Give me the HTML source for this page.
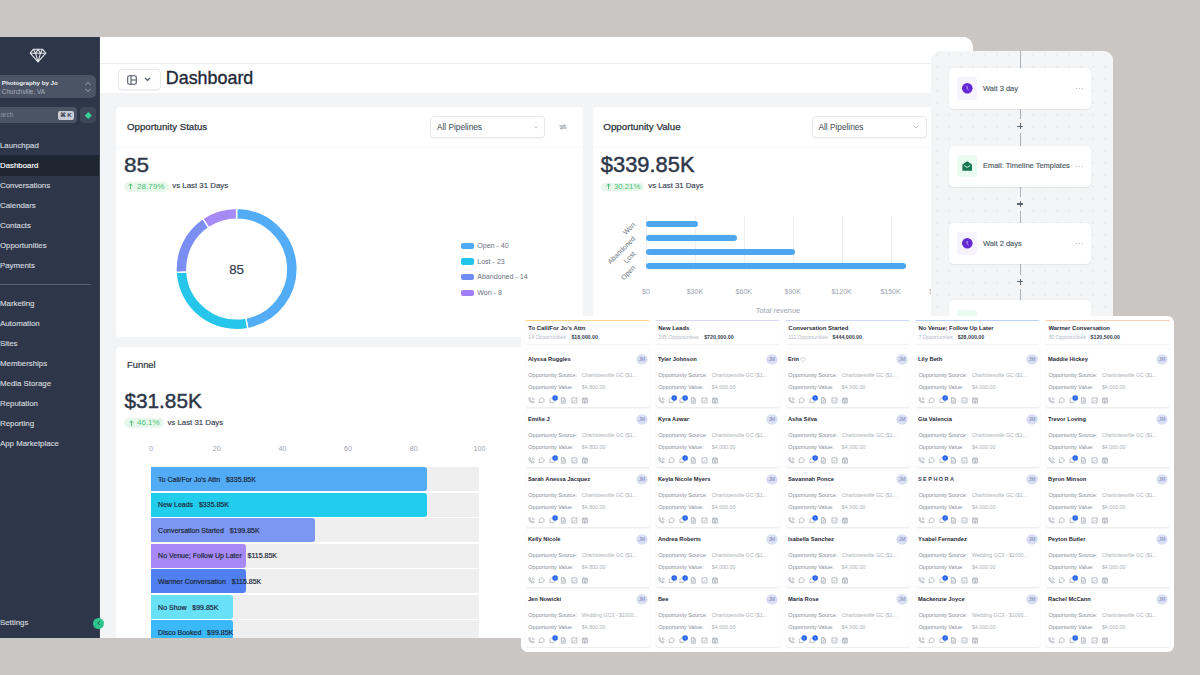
<!DOCTYPE html>
<html><head><meta charset="utf-8">
<style>
*{box-sizing:border-box;margin:0;padding:0}
html,body{width:1200px;height:675px;overflow:hidden;background:#c9c6c3;font-family:"Liberation Sans",sans-serif;position:relative}
.a{position:absolute}
.t{position:absolute;line-height:1;white-space:nowrap}
svg{position:absolute;overflow:visible}
</style></head><body>

<div class="a" style="left:0;top:37px;width:973px;height:601px;background:#f3f4f6;border-top-right-radius:10px;overflow:hidden">
<div class="a" style="left:0;top:-37px;width:973px;height:675px">
<div class="a" style="left:99.00px;top:37.00px;width:874.00px;height:26.00px;background:#fff;"></div>
<div class="a" style="left:99.00px;top:63.00px;width:874.00px;height:1.00px;background:#eceef1;"></div>
<div class="a" style="left:99.00px;top:64.00px;width:874.00px;height:29.00px;background:#fff;"></div>
<div class="a" style="left:0.00px;top:37.00px;width:99.00px;height:601.00px;background:#2d3749;"></div>
<div class="a" style="left:98.50px;top:37.00px;width:1.00px;height:601.00px;background:#3a4453;"></div>
<svg style="left:29px;top:48px" width="18" height="15" viewBox="0 0 18 15">
 <g fill="none" stroke="#e5e7eb" stroke-width="1.1" stroke-linejoin="round">
 <path d="M4.5 1.2 H13.5 L16.8 5.2 L9 13.8 L1.2 5.2 Z"/>
 <path d="M1.2 5.2 H16.8 M4.5 1.2 L6.5 5.2 L9 1.2 L11.5 5.2 L13.5 1.2 M6.5 5.2 L9 13.8 L11.5 5.2"/></g></svg>
<div class="a" style="left:-6.00px;top:75.00px;width:102.00px;height:23.00px;background:#4a5465;border-radius:5px"></div>
<div class="t" style="left:1.80px;top:80.17px;font-size:6.2px;color:#eef0f3;font-weight:bold;">Photography by Jo</div>
<div class="t" style="left:1.80px;top:89.07px;font-size:6.4px;color:#a7afbb;font-weight:normal;">Churchville, VA</div>
<svg style="left:84px;top:81px" width="8" height="12" viewBox="0 0 8 12"><path d="M1.5 4 L4 1.5 L6.5 4 M1.5 8 L4 10.5 L6.5 8" fill="none" stroke="#aeb5c0" stroke-width="0.9"/></svg>
<div class="a" style="left:-6.00px;top:107.00px;width:83.00px;height:16.00px;background:#4a5465;border-radius:4px"></div>
<div class="t" style="left:-3.00px;top:111.78px;font-size:6.6px;color:#8d96a3;font-weight:normal;">earch</div>
<div class="a" style="left:58.00px;top:111.00px;width:16.00px;height:9.00px;background:#c9ced6;border-radius:2px"></div>
<div class="t" style="left:60.00px;top:112.47px;font-size:6.2px;color:#374151;font-weight:bold;">&#8984;&thinsp;K</div>
<div class="a" style="left:80.00px;top:107.00px;width:16.00px;height:16.00px;background:#3d4757;border-radius:4px"></div>
<div class="a" style="left:85.50px;top:112.50px;width:4.60px;height:4.60px;background:#34d399;transform:rotate(45deg)"></div>
<div class="a" style="left:0.00px;top:155.00px;width:99.00px;height:21.00px;background:#1d2531;"></div>
<div class="t" style="left:0.00px;top:141.77px;font-size:7.85px;color:#d3d8df;font-weight:normal;-webkit-text-stroke:0.15px #d3d8df;">Launchpad</div>
<div class="t" style="left:0.00px;top:162.17px;font-size:7.85px;color:#fff;font-weight:normal;-webkit-text-stroke:0.15px #fff;">Dashboard</div>
<div class="t" style="left:0.00px;top:182.17px;font-size:7.85px;color:#d3d8df;font-weight:normal;-webkit-text-stroke:0.15px #d3d8df;">Conversations</div>
<div class="t" style="left:0.00px;top:201.97px;font-size:7.85px;color:#d3d8df;font-weight:normal;-webkit-text-stroke:0.15px #d3d8df;">Calendars</div>
<div class="t" style="left:0.00px;top:221.97px;font-size:7.85px;color:#d3d8df;font-weight:normal;-webkit-text-stroke:0.15px #d3d8df;">Contacts</div>
<div class="t" style="left:0.00px;top:241.97px;font-size:7.85px;color:#d3d8df;font-weight:normal;-webkit-text-stroke:0.15px #d3d8df;">Opportunities</div>
<div class="t" style="left:0.00px;top:262.17px;font-size:7.85px;color:#d3d8df;font-weight:normal;-webkit-text-stroke:0.15px #d3d8df;">Payments</div>
<div class="t" style="left:0.00px;top:300.17px;font-size:7.85px;color:#d3d8df;font-weight:normal;-webkit-text-stroke:0.15px #d3d8df;">Marketing</div>
<div class="t" style="left:0.00px;top:319.87px;font-size:7.85px;color:#d3d8df;font-weight:normal;-webkit-text-stroke:0.15px #d3d8df;">Automation</div>
<div class="t" style="left:0.00px;top:339.87px;font-size:7.85px;color:#d3d8df;font-weight:normal;-webkit-text-stroke:0.15px #d3d8df;">Sites</div>
<div class="t" style="left:0.00px;top:359.77px;font-size:7.85px;color:#d3d8df;font-weight:normal;-webkit-text-stroke:0.15px #d3d8df;">Memberships</div>
<div class="t" style="left:0.00px;top:379.67px;font-size:7.85px;color:#d3d8df;font-weight:normal;-webkit-text-stroke:0.15px #d3d8df;">Media Storage</div>
<div class="t" style="left:0.00px;top:399.67px;font-size:7.85px;color:#d3d8df;font-weight:normal;-webkit-text-stroke:0.15px #d3d8df;">Reputation</div>
<div class="t" style="left:0.00px;top:419.57px;font-size:7.85px;color:#d3d8df;font-weight:normal;-webkit-text-stroke:0.15px #d3d8df;">Reporting</div>
<div class="t" style="left:0.00px;top:439.57px;font-size:7.85px;color:#d3d8df;font-weight:normal;-webkit-text-stroke:0.15px #d3d8df;">App Marketplace</div>
<div class="t" style="left:0.00px;top:619.17px;font-size:7.85px;color:#d3d8df;font-weight:normal;-webkit-text-stroke:0.15px #d3d8df;">Settings</div>
<div class="a" style="left:0.00px;top:284.00px;width:91.00px;height:1.00px;background:#56606f;"></div>
<div class="a" style="left:117.50px;top:69.00px;width:43.00px;height:21.00px;background:#fff;border:1px solid #e7e9ec;border-radius:4px;box-shadow:0 1px 1px rgba(0,0,0,0.04)"></div>
<svg style="left:127px;top:74.5px" width="10" height="10" viewBox="0 0 10 10"><rect x="0.7" y="0.7" width="8.6" height="8.6" rx="1.8" fill="none" stroke="#4b5563" stroke-width="1.1"/><path d="M4 0.7 V9.3 M4 5 H9.3" stroke="#4b5563" stroke-width="1.1"/></svg>
<svg style="left:143.5px;top:77px" width="7" height="5" viewBox="0 0 7 5"><path d="M1 1 L3.5 3.5 L6 1" fill="none" stroke="#4b5563" stroke-width="1.1"/></svg>
<div class="t" style="left:165.80px;top:70.26px;font-size:17.9px;color:#1f2937;font-weight:normal;-webkit-text-stroke:0.35px #1f2937;">Dashboard</div>
<div class="a" style="left:116.00px;top:106.50px;width:467.00px;height:230.00px;background:#fff;border-radius:4px"></div>
<div class="a" style="left:116.00px;top:146.50px;width:467.00px;height:0.60px;background:#f7f8f9;"></div>
<div class="t" style="left:127.00px;top:121.87px;font-size:9.68px;color:#2d3440;font-weight:normal;-webkit-text-stroke:0.25px #2d3440;">Opportunity Status</div>
<div class="a" style="left:429.60px;top:115.60px;width:115.80px;height:22.70px;background:#fff;border:1px solid #e6e8eb;border-radius:4px;box-shadow:0 1px 1.5px rgba(0,0,0,0.05)"></div>
<div class="t" style="left:437.00px;top:123.57px;font-size:8.25px;color:#515a66;font-weight:normal;-webkit-text-stroke:0.1px #515a66;">All Pipelines</div>
<svg style="left:533px;top:125px" width="6" height="4" viewBox="0 0 6 4"><path d="M0.8 0.8 L3 3 L5.2 0.8" fill="none" stroke="#b8bec6" stroke-width="0.8"/></svg>
<svg style="left:559px;top:124px" width="8" height="6" viewBox="0 0 8 6"><path d="M0.5 2 H6.5 L5 0.5 M7.5 4 H1.5 L3 5.5" fill="none" stroke="#7b828c" stroke-width="0.9"/></svg>
<div class="t" style="left:124.00px;top:154.99px;font-size:20.5px;color:#2d3748;font-weight:normal;-webkit-text-stroke:0.4px #2d3748;transform:scaleX(1.1);transform-origin:0 0">85</div>
<div class="a" style="left:123.80px;top:181.80px;width:45.00px;height:9.80px;background:#e8f7ec;border-radius:5px"></div>
<svg style="left:128.3px;top:183.3px" width="5" height="6.5" viewBox="0 0 5 6.5"><path d="M2.5 6.2 V0.9 M0.6 2.8 L2.5 0.9 L4.4 2.8" fill="none" stroke="#41b96a" stroke-width="0.9"/></svg>
<div class="t" style="left:137.00px;top:182.54px;font-size:8.1px;color:#4cc474;font-weight:normal;">28.79%</div>
<div class="t" style="left:172.30px;top:182.47px;font-size:7.85px;color:#374151;font-weight:normal;-webkit-text-stroke:0.15px #374151;">vs Last 31 Days</div>
<svg style="left:0;top:0" width="1200" height="675"><path d="M236.60 208.40 A60.6 60.6 0 0 1 247.75 328.57 L245.76 317.95 A49.8 49.8 0 0 0 236.60 219.20 Z" fill="#53adf6" stroke="#fff" stroke-width="1.4"/><path d="M247.75 328.57 A60.6 60.6 0 0 1 176.09 272.38 L186.88 271.78 A49.8 49.8 0 0 0 245.76 317.95 Z" fill="#26c6ea" stroke="#fff" stroke-width="1.4"/><path d="M176.09 272.38 A60.6 60.6 0 0 1 202.80 218.70 L208.82 227.67 A49.8 49.8 0 0 0 186.88 271.78 Z" fill="#7b8ef3" stroke="#fff" stroke-width="1.4"/><path d="M202.80 218.70 A60.6 60.6 0 0 1 236.60 208.40 L236.60 219.20 A49.8 49.8 0 0 0 208.82 227.67 Z" fill="#a68bf7" stroke="#fff" stroke-width="1.4"/></svg>
<div class="t" style="left:36.60px;width:400px;text-align:center;top:263.10px;font-size:13.3px;color:#374151;font-weight:normal;-webkit-text-stroke:0.25px #374151;">85</div>
<div class="a" style="left:461.20px;top:242.70px;width:12.70px;height:6.60px;background:#4fa9f6;border-radius:2px"></div>
<div class="t" style="left:477.20px;top:243.03px;font-size:7.1px;color:#6b7280;font-weight:normal;">Open - 40</div>
<div class="a" style="left:461.20px;top:258.30px;width:12.70px;height:6.60px;background:#22c4e8;border-radius:2px"></div>
<div class="t" style="left:477.20px;top:258.63px;font-size:7.1px;color:#6b7280;font-weight:normal;">Lost - 23</div>
<div class="a" style="left:461.20px;top:273.90px;width:12.70px;height:6.60px;background:#6f8cf2;border-radius:2px"></div>
<div class="t" style="left:477.20px;top:274.23px;font-size:7.1px;color:#6b7280;font-weight:normal;">Abandoned - 14</div>
<div class="a" style="left:461.20px;top:289.50px;width:12.70px;height:6.60px;background:#a07ef6;border-radius:2px"></div>
<div class="t" style="left:477.20px;top:289.83px;font-size:7.1px;color:#6b7280;font-weight:normal;">Won - 8</div>
<div class="a" style="left:592.50px;top:106.50px;width:470.00px;height:230.00px;background:#fff;border-radius:4px"></div>
<div class="a" style="left:592.50px;top:146.50px;width:470.00px;height:0.60px;background:#f7f8f9;"></div>
<div class="t" style="left:603.30px;top:121.84px;font-size:9.75px;color:#2d3440;font-weight:normal;-webkit-text-stroke:0.25px #2d3440;">Opportunity Value</div>
<div class="a" style="left:811.70px;top:116.00px;width:115.00px;height:21.70px;background:#fff;border:1px solid #e6e8eb;border-radius:4px;box-shadow:0 1px 1.5px rgba(0,0,0,0.05)"></div>
<div class="t" style="left:818.50px;top:123.57px;font-size:8.25px;color:#515a66;font-weight:normal;-webkit-text-stroke:0.1px #515a66;">All Pipelines</div>
<svg style="left:913px;top:125px" width="6" height="4" viewBox="0 0 6 4"><path d="M0.8 0.8 L3 3 L5.2 0.8" fill="none" stroke="#b8bec6" stroke-width="0.8"/></svg>
<div class="t" style="left:600.80px;top:154.10px;font-size:21.9px;color:#2d3748;font-weight:normal;-webkit-text-stroke:0.45px #2d3748;">$339.85K</div>
<div class="a" style="left:601.10px;top:182.60px;width:43.20px;height:8.80px;background:#e8f7ec;border-radius:5px"></div>
<svg style="left:605.5px;top:183.3px" width="5" height="6.5" viewBox="0 0 5 6.5"><path d="M2.5 6.2 V0.9 M0.6 2.8 L2.5 0.9 L4.4 2.8" fill="none" stroke="#41b96a" stroke-width="0.9"/></svg>
<div class="t" style="left:613.90px;top:182.69px;font-size:7.8px;color:#4cc474;font-weight:normal;">30.21%</div>
<div class="t" style="left:648.30px;top:182.31px;font-size:7.75px;color:#374151;font-weight:normal;-webkit-text-stroke:0.15px #374151;">vs Last 31 Days</div>
<div class="a" style="left:646.00px;top:216.00px;width:0.60px;height:55.40px;background:#eceef1;"></div>
<div class="a" style="left:694.90px;top:216.00px;width:0.60px;height:55.40px;background:#eceef1;"></div>
<div class="a" style="left:743.80px;top:216.00px;width:0.60px;height:55.40px;background:#eceef1;"></div>
<div class="a" style="left:792.70px;top:216.00px;width:0.60px;height:55.40px;background:#eceef1;"></div>
<div class="a" style="left:841.60px;top:216.00px;width:0.60px;height:55.40px;background:#eceef1;"></div>
<div class="a" style="left:890.50px;top:216.00px;width:0.60px;height:55.40px;background:#eceef1;"></div>
<div class="a" style="left:939.40px;top:216.00px;width:0.60px;height:55.40px;background:#eceef1;"></div>
<div class="a" style="left:646.00px;top:220.70px;width:51.70px;height:6.00px;background:#4ea6ef;border-radius:3px"></div>
<div class="t" style="left:334.20px;top:220.10px;width:300px;text-align:right;font-size:7px;color:#6b7280;transform-origin:100% 50%;transform:rotate(-45deg)">Won</div>
<div class="a" style="left:646.00px;top:234.90px;width:90.90px;height:6.00px;background:#4ea6ef;border-radius:3px"></div>
<div class="t" style="left:334.20px;top:234.30px;width:300px;text-align:right;font-size:7px;color:#6b7280;transform-origin:100% 50%;transform:rotate(-45deg)">Abandoned</div>
<div class="a" style="left:646.00px;top:249.10px;width:148.90px;height:6.00px;background:#4ea6ef;border-radius:3px"></div>
<div class="t" style="left:334.20px;top:248.50px;width:300px;text-align:right;font-size:7px;color:#6b7280;transform-origin:100% 50%;transform:rotate(-45deg)">Lost</div>
<div class="a" style="left:646.00px;top:263.30px;width:259.70px;height:6.00px;background:#4ea6ef;border-radius:3px"></div>
<div class="t" style="left:334.20px;top:262.70px;width:300px;text-align:right;font-size:7px;color:#6b7280;transform-origin:100% 50%;transform:rotate(-45deg)">Open</div>
<div class="t" style="left:446.00px;width:400px;text-align:center;top:287.88px;font-size:7.0px;color:#9ca3af;font-weight:normal;">$0</div>
<div class="t" style="left:494.90px;width:400px;text-align:center;top:287.88px;font-size:7.0px;color:#9ca3af;font-weight:normal;">$30K</div>
<div class="t" style="left:543.80px;width:400px;text-align:center;top:287.88px;font-size:7.0px;color:#9ca3af;font-weight:normal;">$60K</div>
<div class="t" style="left:592.70px;width:400px;text-align:center;top:287.88px;font-size:7.0px;color:#9ca3af;font-weight:normal;">$90K</div>
<div class="t" style="left:641.60px;width:400px;text-align:center;top:287.88px;font-size:7.0px;color:#9ca3af;font-weight:normal;">$120K</div>
<div class="t" style="left:690.50px;width:400px;text-align:center;top:287.88px;font-size:7.0px;color:#9ca3af;font-weight:normal;">$150K</div>
<div class="t" style="left:739.40px;width:400px;text-align:center;top:287.88px;font-size:7.0px;color:#9ca3af;font-weight:normal;">$180K</div>
<div class="t" style="left:578.00px;width:400px;text-align:center;top:306.89px;font-size:7.4px;color:#9ca3af;font-weight:normal;">Total revenue</div>
<div class="a" style="left:116.00px;top:346.50px;width:470.00px;height:300.00px;background:#fff;border-radius:4px"></div>
<div class="t" style="left:127.00px;top:360.41px;font-size:9.4px;color:#2d3440;font-weight:normal;-webkit-text-stroke:0.2px #2d3440;">Funnel</div>
<div class="t" style="left:124.40px;top:390.84px;font-size:20.8px;color:#2d3748;font-weight:normal;-webkit-text-stroke:0.45px #2d3748;">$31.85K</div>
<div class="a" style="left:124.00px;top:417.60px;width:39.80px;height:10.00px;background:#e8f7ec;border-radius:5px"></div>
<svg style="left:128.5px;top:419.5px" width="5" height="6.5" viewBox="0 0 5 6.5"><path d="M2.5 6.2 V0.9 M0.6 2.8 L2.5 0.9 L4.4 2.8" fill="none" stroke="#41b96a" stroke-width="0.9"/></svg>
<div class="t" style="left:137.00px;top:419.09px;font-size:8.0px;color:#4cc474;font-weight:normal;">46.1%</div>
<div class="t" style="left:167.40px;top:419.17px;font-size:7.85px;color:#374151;font-weight:normal;-webkit-text-stroke:0.15px #374151;">vs Last 31 Days</div>
<div class="t" style="left:-49.00px;width:400px;text-align:center;top:444.68px;font-size:7.2px;color:#9ca3af;font-weight:normal;">0</div>
<div class="t" style="left:16.70px;width:400px;text-align:center;top:444.68px;font-size:7.2px;color:#9ca3af;font-weight:normal;">20</div>
<div class="t" style="left:82.40px;width:400px;text-align:center;top:444.68px;font-size:7.2px;color:#9ca3af;font-weight:normal;">40</div>
<div class="t" style="left:148.10px;width:400px;text-align:center;top:444.68px;font-size:7.2px;color:#9ca3af;font-weight:normal;">60</div>
<div class="t" style="left:213.80px;width:400px;text-align:center;top:444.68px;font-size:7.2px;color:#9ca3af;font-weight:normal;">80</div>
<div class="t" style="left:279.50px;width:400px;text-align:center;top:444.68px;font-size:7.2px;color:#9ca3af;font-weight:normal;">100</div>
<div class="a" style="left:151.00px;top:467.00px;width:328.20px;height:24.00px;background:#efefef;"></div>
<div class="a" style="left:151.00px;top:467.00px;width:276.00px;height:24.00px;background:#52abf5;border-radius:0 3px 3px 0"></div>
<div class="t" style="left:158.10px;top:475.68px;font-size:7.0px;color:#1e293b;font-weight:normal;-webkit-text-stroke:0.2px #1e293b;">To Call/For Jo's Attn&nbsp;&nbsp;&nbsp;$335.85K</div>
<div class="a" style="left:151.00px;top:492.57px;width:328.20px;height:24.00px;background:#efefef;"></div>
<div class="a" style="left:151.00px;top:492.57px;width:276.00px;height:24.00px;background:#22ccec;border-radius:0 3px 3px 0"></div>
<div class="t" style="left:158.10px;top:501.25px;font-size:7.0px;color:#1e293b;font-weight:normal;-webkit-text-stroke:0.2px #1e293b;">New Leads&nbsp;&nbsp;&nbsp;$335.85K</div>
<div class="a" style="left:151.00px;top:518.14px;width:328.20px;height:24.00px;background:#efefef;"></div>
<div class="a" style="left:151.00px;top:518.14px;width:164.00px;height:24.00px;background:#7c96f4;border-radius:0 3px 3px 0"></div>
<div class="t" style="left:158.10px;top:526.82px;font-size:7.0px;color:#1e293b;font-weight:normal;-webkit-text-stroke:0.2px #1e293b;">Conversation Started&nbsp;&nbsp;&nbsp;$199.85K</div>
<div class="a" style="left:151.00px;top:543.71px;width:328.20px;height:24.00px;background:#efefef;"></div>
<div class="a" style="left:151.00px;top:543.71px;width:95.00px;height:24.00px;background:#a689f6;border-radius:0 3px 3px 0"></div>
<div class="t" style="left:158.10px;top:552.39px;font-size:7.0px;color:#1e293b;font-weight:normal;-webkit-text-stroke:0.2px #1e293b;">No Venue; Follow Up Later&nbsp;&nbsp;&nbsp;$115.85K</div>
<div class="a" style="left:151.00px;top:569.28px;width:328.20px;height:24.00px;background:#efefef;"></div>
<div class="a" style="left:151.00px;top:569.28px;width:95.00px;height:24.00px;background:#4f7ff0;border-radius:0 3px 3px 0"></div>
<div class="t" style="left:158.10px;top:577.96px;font-size:7.0px;color:#1e293b;font-weight:normal;-webkit-text-stroke:0.2px #1e293b;">Warmer Conversation&nbsp;&nbsp;&nbsp;$115.85K</div>
<div class="a" style="left:151.00px;top:594.85px;width:328.20px;height:24.00px;background:#efefef;"></div>
<div class="a" style="left:151.00px;top:594.85px;width:82.00px;height:24.00px;background:#68e0f6;border-radius:0 3px 3px 0"></div>
<div class="t" style="left:158.10px;top:603.53px;font-size:7.0px;color:#1e293b;font-weight:normal;-webkit-text-stroke:0.2px #1e293b;">No Show&nbsp;&nbsp;&nbsp;$99.85K</div>
<div class="a" style="left:151.00px;top:620.42px;width:328.20px;height:24.00px;background:#efefef;"></div>
<div class="a" style="left:151.00px;top:620.42px;width:82.00px;height:24.00px;background:#3bb8f7;border-radius:0 3px 3px 0"></div>
<div class="t" style="left:158.10px;top:629.10px;font-size:7.0px;color:#1e293b;font-weight:normal;-webkit-text-stroke:0.2px #1e293b;">Disco Booked&nbsp;&nbsp;&nbsp;$99.85K</div>
</div></div>
<div class="a" style="left:93.00px;top:617.50px;width:11.00px;height:11.00px;background:#2fc48d;border-radius:50%"></div>
<svg style="left:95.5px;top:620px" width="6" height="6" viewBox="0 0 6 6"><path d="M3.8 1 L1.8 3 L3.8 5" fill="none" stroke="#0f5132" stroke-width="0.9"/></svg>
<div class="a" style="left:931px;top:51px;width:182px;height:300px;background:#f4f5f7;border-radius:9px;overflow:hidden">
<div class="a" style="left:-931px;top:-51px;width:1200px;height:675px">
<div class="a" style="left:931px;top:51px;width:182px;height:300px;background-image:radial-gradient(circle at 0.75px 0.75px,#e0e3e7 0.6px,transparent 1.0px);background-size:12px 12px;background-position:5.4px 3px"></div>
<div class="a" style="left:1020.00px;top:51.00px;width:1.00px;height:270.00px;background:#aeb2b8;"></div>
<div class="a" style="left:1016.50px;top:119.30px;width:8.00px;height:14.00px;background:#f4f5f7;"></div>
<div class="a" style="left:1017.40px;top:125.70px;width:6.00px;height:1.20px;background:#5b636e;"></div>
<div class="a" style="left:1019.80px;top:123.30px;width:1.20px;height:6.00px;background:#5b636e;"></div>
<div class="a" style="left:1017.40px;top:120.30px;width:6.00px;height:12.00px;background:transparent;"></div>
<div class="a" style="left:1016.50px;top:197.00px;width:8.00px;height:14.00px;background:#f4f5f7;"></div>
<div class="a" style="left:1017.40px;top:203.40px;width:6.00px;height:1.20px;background:#5b636e;"></div>
<div class="a" style="left:1019.80px;top:201.00px;width:1.20px;height:6.00px;background:#5b636e;"></div>
<div class="a" style="left:1017.40px;top:198.00px;width:6.00px;height:12.00px;background:transparent;"></div>
<div class="a" style="left:1016.50px;top:274.50px;width:8.00px;height:14.00px;background:#f4f5f7;"></div>
<div class="a" style="left:1017.40px;top:280.90px;width:6.00px;height:1.20px;background:#5b636e;"></div>
<div class="a" style="left:1019.80px;top:278.50px;width:1.20px;height:6.00px;background:#5b636e;"></div>
<div class="a" style="left:1017.40px;top:275.50px;width:6.00px;height:12.00px;background:transparent;"></div>
<div class="a" style="left:949.30px;top:67.70px;width:142.00px;height:41.30px;background:#fff;border-radius:5px;box-shadow:0 0.5px 1.5px rgba(0,0,0,0.07)"></div>
<div class="a" style="left:956.70px;top:77.05px;width:20.60px;height:22.60px;background:#f6f2fe;border-radius:3px"></div>
<svg style="left:961.8px;top:83.05px" width="10.6" height="10.6" viewBox="0 0 10.6 10.6"><circle cx="5.3" cy="5.3" r="5.3" fill="#6529d3"/><path d="M5.1 2.8 V5.6 L6.6 7" fill="none" stroke="#e9ddff" stroke-width="0.7"/></svg>
<div class="t" style="left:982.90px;top:84.69px;font-size:7.5px;color:#4b5563;font-weight:normal;-webkit-text-stroke:0.12px #4b5563;">Wait 3 day</div>
<div class="a" style="left:1076.30px;top:87.80px;width:1.20px;height:1.20px;background:#9ca3af;border-radius:50%"></div>
<div class="a" style="left:1079.20px;top:87.80px;width:1.20px;height:1.20px;background:#9ca3af;border-radius:50%"></div>
<div class="a" style="left:1082.10px;top:87.80px;width:1.20px;height:1.20px;background:#9ca3af;border-radius:50%"></div>
<div class="a" style="left:949.30px;top:145.60px;width:142.00px;height:41.10px;background:#fff;border-radius:5px;box-shadow:0 0.5px 1.5px rgba(0,0,0,0.07)"></div>
<div class="a" style="left:956.70px;top:155.15px;width:20.60px;height:22.00px;background:#eafbf2;border-radius:3px"></div>
<svg style="left:962px;top:160.85px" width="10.4" height="10" viewBox="0 0 10.4 10"><path d="M0.4 3.6 L5.2 0.3 L10 3.6 V9.7 H0.4 Z" fill="#15784f"/><path d="M2.2 4.6 L5.2 6.4 L8.2 4.6" fill="none" stroke="#eafbf2" stroke-width="0.9"/></svg>
<div class="t" style="left:982.90px;top:162.49px;font-size:7.5px;color:#4b5563;font-weight:normal;-webkit-text-stroke:0.12px #4b5563;">Email: Timeline Templates</div>
<div class="a" style="left:1076.30px;top:165.60px;width:1.20px;height:1.20px;background:#9ca3af;border-radius:50%"></div>
<div class="a" style="left:1079.20px;top:165.60px;width:1.20px;height:1.20px;background:#9ca3af;border-radius:50%"></div>
<div class="a" style="left:1082.10px;top:165.60px;width:1.20px;height:1.20px;background:#9ca3af;border-radius:50%"></div>
<div class="a" style="left:949.30px;top:223.00px;width:142.00px;height:40.50px;background:#fff;border-radius:5px;box-shadow:0 0.5px 1.5px rgba(0,0,0,0.07)"></div>
<div class="a" style="left:956.70px;top:231.95px;width:20.60px;height:22.60px;background:#f6f2fe;border-radius:3px"></div>
<svg style="left:961.8px;top:237.95px" width="10.6" height="10.6" viewBox="0 0 10.6 10.6"><circle cx="5.3" cy="5.3" r="5.3" fill="#6529d3"/><path d="M5.1 2.8 V5.6 L6.6 7" fill="none" stroke="#e9ddff" stroke-width="0.7"/></svg>
<div class="t" style="left:982.90px;top:239.59px;font-size:7.5px;color:#4b5563;font-weight:normal;-webkit-text-stroke:0.12px #4b5563;">Wait 2 days</div>
<div class="a" style="left:1076.30px;top:242.70px;width:1.20px;height:1.20px;background:#9ca3af;border-radius:50%"></div>
<div class="a" style="left:1079.20px;top:242.70px;width:1.20px;height:1.20px;background:#9ca3af;border-radius:50%"></div>
<div class="a" style="left:1082.10px;top:242.70px;width:1.20px;height:1.20px;background:#9ca3af;border-radius:50%"></div>
<div class="a" style="left:949.30px;top:300.00px;width:142.00px;height:41.00px;background:#fff;border-radius:5px;box-shadow:0 0.5px 1.5px rgba(0,0,0,0.07)"></div>
<div class="a" style="left:956.70px;top:309.70px;width:20.60px;height:22.00px;background:#eafbf2;border-radius:3px"></div>
</div></div>
<div class="a" style="left:521px;top:316px;width:653px;height:336px;background:#fff;border-radius:6.5px"></div>
<div class="a" style="left:525.30px;top:320.40px;width:124.50px;height:24.00px;background:#fff;border-top:1.3px solid #fbd68a;border-radius:2px;box-shadow:0 1px 1.5px rgba(0,0,0,0.06)"></div>
<div class="t" style="left:528.30px;top:326.09px;font-size:5.95px;color:#1f2937;font-weight:bold;">To Call/For Jo's Attn</div>
<div class="t" style="left:528.30px;top:335.11px;font-size:5.1px;color:#b3b8bf;font-weight:normal;">14 Opportunities</div>
<div class="t" style="left:571.40px;top:335.01px;font-size:5.3px;color:#374151;font-weight:bold;">$18,000.00</div>
<div class="a" style="left:525.60px;top:349.00px;width:124.00px;height:58.00px;background:#fff;border-radius:3px;box-shadow:0 0.6px 1.6px rgba(0,0,0,0.09)"></div>
<div class="t" style="left:527.90px;top:356.99px;font-size:5.75px;color:#1f2937;font-weight:bold;">Alyssa Ruggles</div>
<div class="a" style="left:637.00px;top:354.70px;width:9.80px;height:9.80px;background:#d9e0f4;border-radius:50%;box-shadow:0 0 0 0.5px #cbd3ee"></div>
<div class="t" style="left:441.90px;width:400px;text-align:center;top:357.61px;font-size:4.9px;color:#8a94c0;font-weight:normal;-webkit-text-stroke:0.1px #8a94c0;">JM</div>
<div class="t" style="left:528.30px;top:372.61px;font-size:5.5px;color:#858c96;font-weight:normal;">Opportunity Source:</div>
<div class="t" style="left:581.80px;top:372.76px;font-size:5.2px;color:#abb1b8;font-weight:normal;">Charlottesville GC ($1...</div>
<div class="t" style="left:528.30px;top:385.11px;font-size:5.5px;color:#858c96;font-weight:normal;">Opportunity Value:</div>
<div class="t" style="left:581.80px;top:385.21px;font-size:5.3px;color:#abb1b8;font-weight:normal;">$4,800.00</div>
<div class="a" style="left:525.60px;top:409.00px;width:124.00px;height:58.00px;background:#fff;border-radius:3px;box-shadow:0 0.6px 1.6px rgba(0,0,0,0.09)"></div>
<div class="t" style="left:527.90px;top:416.99px;font-size:5.75px;color:#1f2937;font-weight:bold;">Emilie J</div>
<div class="a" style="left:637.00px;top:414.70px;width:9.80px;height:9.80px;background:#d9e0f4;border-radius:50%;box-shadow:0 0 0 0.5px #cbd3ee"></div>
<div class="t" style="left:441.90px;width:400px;text-align:center;top:417.61px;font-size:4.9px;color:#8a94c0;font-weight:normal;-webkit-text-stroke:0.1px #8a94c0;">JM</div>
<div class="t" style="left:528.30px;top:432.61px;font-size:5.5px;color:#858c96;font-weight:normal;">Opportunity Source:</div>
<div class="t" style="left:581.80px;top:432.76px;font-size:5.2px;color:#abb1b8;font-weight:normal;">Charlottesville GC ($1...</div>
<div class="t" style="left:528.30px;top:445.11px;font-size:5.5px;color:#858c96;font-weight:normal;">Opportunity Value:</div>
<div class="t" style="left:581.80px;top:445.21px;font-size:5.3px;color:#abb1b8;font-weight:normal;">$4,800.00</div>
<div class="a" style="left:525.60px;top:469.00px;width:124.00px;height:58.00px;background:#fff;border-radius:3px;box-shadow:0 0.6px 1.6px rgba(0,0,0,0.09)"></div>
<div class="t" style="left:527.90px;top:476.99px;font-size:5.75px;color:#1f2937;font-weight:bold;">Sarah Anessa Jacquez</div>
<div class="a" style="left:637.00px;top:474.70px;width:9.80px;height:9.80px;background:#d9e0f4;border-radius:50%;box-shadow:0 0 0 0.5px #cbd3ee"></div>
<div class="t" style="left:441.90px;width:400px;text-align:center;top:477.61px;font-size:4.9px;color:#8a94c0;font-weight:normal;-webkit-text-stroke:0.1px #8a94c0;">JM</div>
<div class="t" style="left:528.30px;top:492.61px;font-size:5.5px;color:#858c96;font-weight:normal;">Opportunity Source:</div>
<div class="t" style="left:581.80px;top:492.76px;font-size:5.2px;color:#abb1b8;font-weight:normal;">Charlottesville GC ($1...</div>
<div class="t" style="left:528.30px;top:505.11px;font-size:5.5px;color:#858c96;font-weight:normal;">Opportunity Value:</div>
<div class="t" style="left:581.80px;top:505.21px;font-size:5.3px;color:#abb1b8;font-weight:normal;">$4,800.00</div>
<div class="a" style="left:525.60px;top:529.00px;width:124.00px;height:58.00px;background:#fff;border-radius:3px;box-shadow:0 0.6px 1.6px rgba(0,0,0,0.09)"></div>
<div class="t" style="left:527.90px;top:536.99px;font-size:5.75px;color:#1f2937;font-weight:bold;">Kelly Nicole</div>
<div class="a" style="left:637.00px;top:534.70px;width:9.80px;height:9.80px;background:#d9e0f4;border-radius:50%;box-shadow:0 0 0 0.5px #cbd3ee"></div>
<div class="t" style="left:441.90px;width:400px;text-align:center;top:537.61px;font-size:4.9px;color:#8a94c0;font-weight:normal;-webkit-text-stroke:0.1px #8a94c0;">JM</div>
<div class="t" style="left:528.30px;top:552.61px;font-size:5.5px;color:#858c96;font-weight:normal;">Opportunity Source:</div>
<div class="t" style="left:581.80px;top:552.76px;font-size:5.2px;color:#abb1b8;font-weight:normal;">Charlottesville GC ($1...</div>
<div class="t" style="left:528.30px;top:565.11px;font-size:5.5px;color:#858c96;font-weight:normal;">Opportunity Value:</div>
<div class="t" style="left:581.80px;top:565.21px;font-size:5.3px;color:#abb1b8;font-weight:normal;">$4,800.00</div>
<div class="a" style="left:525.60px;top:589.00px;width:124.00px;height:58.00px;background:#fff;border-radius:3px;box-shadow:0 0.6px 1.6px rgba(0,0,0,0.09)"></div>
<div class="t" style="left:527.90px;top:596.99px;font-size:5.75px;color:#1f2937;font-weight:bold;">Jen Nowicki</div>
<div class="a" style="left:637.00px;top:594.70px;width:9.80px;height:9.80px;background:#d9e0f4;border-radius:50%;box-shadow:0 0 0 0.5px #cbd3ee"></div>
<div class="t" style="left:441.90px;width:400px;text-align:center;top:597.61px;font-size:4.9px;color:#8a94c0;font-weight:normal;-webkit-text-stroke:0.1px #8a94c0;">JM</div>
<div class="t" style="left:528.30px;top:612.61px;font-size:5.5px;color:#858c96;font-weight:normal;">Opportunity Source:</div>
<div class="t" style="left:581.80px;top:612.76px;font-size:5.2px;color:#abb1b8;font-weight:normal;">Wedding GC3 - $1000...</div>
<div class="t" style="left:528.30px;top:625.11px;font-size:5.5px;color:#858c96;font-weight:normal;">Opportunity Value:</div>
<div class="t" style="left:581.80px;top:625.21px;font-size:5.3px;color:#abb1b8;font-weight:normal;">$4,800.00</div>
<div class="a" style="left:655.33px;top:320.40px;width:124.50px;height:24.00px;background:#fff;border-top:1.3px solid #dcd6f8;border-radius:2px;box-shadow:0 1px 1.5px rgba(0,0,0,0.06)"></div>
<div class="t" style="left:658.33px;top:326.09px;font-size:5.95px;color:#1f2937;font-weight:bold;">New Leads</div>
<div class="t" style="left:658.33px;top:335.11px;font-size:5.1px;color:#b3b8bf;font-weight:normal;">165 Opportunities</div>
<div class="t" style="left:704.13px;top:335.01px;font-size:5.3px;color:#374151;font-weight:bold;">$720,000.00</div>
<div class="a" style="left:655.63px;top:349.00px;width:124.00px;height:58.00px;background:#fff;border-radius:3px;box-shadow:0 0.6px 1.6px rgba(0,0,0,0.09)"></div>
<div class="t" style="left:657.93px;top:356.99px;font-size:5.75px;color:#1f2937;font-weight:bold;">Tyler Johnson</div>
<div class="a" style="left:767.03px;top:354.70px;width:9.80px;height:9.80px;background:#d9e0f4;border-radius:50%;box-shadow:0 0 0 0.5px #cbd3ee"></div>
<div class="t" style="left:571.93px;width:400px;text-align:center;top:357.61px;font-size:4.9px;color:#8a94c0;font-weight:normal;-webkit-text-stroke:0.1px #8a94c0;">JM</div>
<div class="t" style="left:658.33px;top:372.61px;font-size:5.5px;color:#858c96;font-weight:normal;">Opportunity Source:</div>
<div class="t" style="left:711.83px;top:372.76px;font-size:5.2px;color:#abb1b8;font-weight:normal;">Charlottesville GC ($1...</div>
<div class="t" style="left:658.33px;top:385.11px;font-size:5.5px;color:#858c96;font-weight:normal;">Opportunity Value:</div>
<div class="t" style="left:711.83px;top:385.21px;font-size:5.3px;color:#abb1b8;font-weight:normal;">$4,000.00</div>
<div class="a" style="left:655.63px;top:409.00px;width:124.00px;height:58.00px;background:#fff;border-radius:3px;box-shadow:0 0.6px 1.6px rgba(0,0,0,0.09)"></div>
<div class="t" style="left:657.93px;top:416.99px;font-size:5.75px;color:#1f2937;font-weight:bold;">Kyra Azwar</div>
<div class="a" style="left:767.03px;top:414.70px;width:9.80px;height:9.80px;background:#d9e0f4;border-radius:50%;box-shadow:0 0 0 0.5px #cbd3ee"></div>
<div class="t" style="left:571.93px;width:400px;text-align:center;top:417.61px;font-size:4.9px;color:#8a94c0;font-weight:normal;-webkit-text-stroke:0.1px #8a94c0;">JM</div>
<div class="t" style="left:658.33px;top:432.61px;font-size:5.5px;color:#858c96;font-weight:normal;">Opportunity Source:</div>
<div class="t" style="left:711.83px;top:432.76px;font-size:5.2px;color:#abb1b8;font-weight:normal;">Charlottesville GC ($1...</div>
<div class="t" style="left:658.33px;top:445.11px;font-size:5.5px;color:#858c96;font-weight:normal;">Opportunity Value:</div>
<div class="t" style="left:711.83px;top:445.21px;font-size:5.3px;color:#abb1b8;font-weight:normal;">$4,000.00</div>
<div class="a" style="left:655.63px;top:469.00px;width:124.00px;height:58.00px;background:#fff;border-radius:3px;box-shadow:0 0.6px 1.6px rgba(0,0,0,0.09)"></div>
<div class="t" style="left:657.93px;top:476.99px;font-size:5.75px;color:#1f2937;font-weight:bold;">Keyla Nicole Myers</div>
<div class="a" style="left:767.03px;top:474.70px;width:9.80px;height:9.80px;background:#d9e0f4;border-radius:50%;box-shadow:0 0 0 0.5px #cbd3ee"></div>
<div class="t" style="left:571.93px;width:400px;text-align:center;top:477.61px;font-size:4.9px;color:#8a94c0;font-weight:normal;-webkit-text-stroke:0.1px #8a94c0;">JM</div>
<div class="t" style="left:658.33px;top:492.61px;font-size:5.5px;color:#858c96;font-weight:normal;">Opportunity Source:</div>
<div class="t" style="left:711.83px;top:492.76px;font-size:5.2px;color:#abb1b8;font-weight:normal;">Charlottesville GC ($1...</div>
<div class="t" style="left:658.33px;top:505.11px;font-size:5.5px;color:#858c96;font-weight:normal;">Opportunity Value:</div>
<div class="t" style="left:711.83px;top:505.21px;font-size:5.3px;color:#abb1b8;font-weight:normal;">$4,000.00</div>
<div class="a" style="left:655.63px;top:529.00px;width:124.00px;height:58.00px;background:#fff;border-radius:3px;box-shadow:0 0.6px 1.6px rgba(0,0,0,0.09)"></div>
<div class="t" style="left:657.93px;top:536.99px;font-size:5.75px;color:#1f2937;font-weight:bold;">Andrea Roberts</div>
<div class="a" style="left:767.03px;top:534.70px;width:9.80px;height:9.80px;background:#d9e0f4;border-radius:50%;box-shadow:0 0 0 0.5px #cbd3ee"></div>
<div class="t" style="left:571.93px;width:400px;text-align:center;top:537.61px;font-size:4.9px;color:#8a94c0;font-weight:normal;-webkit-text-stroke:0.1px #8a94c0;">JM</div>
<div class="t" style="left:658.33px;top:552.61px;font-size:5.5px;color:#858c96;font-weight:normal;">Opportunity Source:</div>
<div class="t" style="left:711.83px;top:552.76px;font-size:5.2px;color:#abb1b8;font-weight:normal;">Charlottesville GC ($1...</div>
<div class="t" style="left:658.33px;top:565.11px;font-size:5.5px;color:#858c96;font-weight:normal;">Opportunity Value:</div>
<div class="t" style="left:711.83px;top:565.21px;font-size:5.3px;color:#abb1b8;font-weight:normal;">$4,000.00</div>
<div class="a" style="left:655.63px;top:589.00px;width:124.00px;height:58.00px;background:#fff;border-radius:3px;box-shadow:0 0.6px 1.6px rgba(0,0,0,0.09)"></div>
<div class="t" style="left:657.93px;top:596.99px;font-size:5.75px;color:#1f2937;font-weight:bold;">Bee</div>
<div class="a" style="left:767.03px;top:594.70px;width:9.80px;height:9.80px;background:#d9e0f4;border-radius:50%;box-shadow:0 0 0 0.5px #cbd3ee"></div>
<div class="t" style="left:571.93px;width:400px;text-align:center;top:597.61px;font-size:4.9px;color:#8a94c0;font-weight:normal;-webkit-text-stroke:0.1px #8a94c0;">JM</div>
<div class="t" style="left:658.33px;top:612.61px;font-size:5.5px;color:#858c96;font-weight:normal;">Opportunity Source:</div>
<div class="t" style="left:711.83px;top:612.76px;font-size:5.2px;color:#abb1b8;font-weight:normal;">Charlottesville GC ($1...</div>
<div class="t" style="left:658.33px;top:625.11px;font-size:5.5px;color:#858c96;font-weight:normal;">Opportunity Value:</div>
<div class="t" style="left:711.83px;top:625.21px;font-size:5.3px;color:#abb1b8;font-weight:normal;">$4,000.00</div>
<div class="a" style="left:785.36px;top:320.40px;width:124.50px;height:24.00px;background:#fff;border-top:1.3px solid #cfd8fa;border-radius:2px;box-shadow:0 1px 1.5px rgba(0,0,0,0.06)"></div>
<div class="t" style="left:788.36px;top:326.09px;font-size:5.95px;color:#1f2937;font-weight:bold;">Conversation Started</div>
<div class="t" style="left:788.36px;top:335.11px;font-size:5.1px;color:#b3b8bf;font-weight:normal;">111 Opportunities</div>
<div class="t" style="left:832.56px;top:335.01px;font-size:5.3px;color:#374151;font-weight:bold;">$444,000.00</div>
<div class="a" style="left:785.66px;top:349.00px;width:124.00px;height:58.00px;background:#fff;border-radius:3px;box-shadow:0 0.6px 1.6px rgba(0,0,0,0.09)"></div>
<div class="t" style="left:787.96px;top:356.99px;font-size:5.75px;color:#1f2937;font-weight:bold;">Erin</div>
<svg style="left:799.96px;top:356.80px" width="6" height="6" viewBox="0 0 6 6"><path d="M3 5.3 L0.9 3 a1.2 1.2 0 0 1 2.1-1.7 a1.2 1.2 0 0 1 2.1 1.7z" fill="none" stroke="#b5bac2" stroke-width="0.6"/></svg>
<div class="a" style="left:897.06px;top:354.70px;width:9.80px;height:9.80px;background:#d9e0f4;border-radius:50%;box-shadow:0 0 0 0.5px #cbd3ee"></div>
<div class="t" style="left:701.96px;width:400px;text-align:center;top:357.61px;font-size:4.9px;color:#8a94c0;font-weight:normal;-webkit-text-stroke:0.1px #8a94c0;">JM</div>
<div class="t" style="left:788.36px;top:372.61px;font-size:5.5px;color:#858c96;font-weight:normal;">Opportunity Source:</div>
<div class="t" style="left:841.86px;top:372.76px;font-size:5.2px;color:#abb1b8;font-weight:normal;">Charlottesville GC ($1...</div>
<div class="t" style="left:788.36px;top:385.11px;font-size:5.5px;color:#858c96;font-weight:normal;">Opportunity Value:</div>
<div class="t" style="left:841.86px;top:385.21px;font-size:5.3px;color:#abb1b8;font-weight:normal;">$4,000.00</div>
<div class="a" style="left:785.66px;top:409.00px;width:124.00px;height:58.00px;background:#fff;border-radius:3px;box-shadow:0 0.6px 1.6px rgba(0,0,0,0.09)"></div>
<div class="t" style="left:787.96px;top:416.99px;font-size:5.75px;color:#1f2937;font-weight:bold;">Asha Silva</div>
<div class="a" style="left:897.06px;top:414.70px;width:9.80px;height:9.80px;background:#d9e0f4;border-radius:50%;box-shadow:0 0 0 0.5px #cbd3ee"></div>
<div class="t" style="left:701.96px;width:400px;text-align:center;top:417.61px;font-size:4.9px;color:#8a94c0;font-weight:normal;-webkit-text-stroke:0.1px #8a94c0;">JM</div>
<div class="t" style="left:788.36px;top:432.61px;font-size:5.5px;color:#858c96;font-weight:normal;">Opportunity Source:</div>
<div class="t" style="left:841.86px;top:432.76px;font-size:5.2px;color:#abb1b8;font-weight:normal;">Charlottesville GC ($1...</div>
<div class="t" style="left:788.36px;top:445.11px;font-size:5.5px;color:#858c96;font-weight:normal;">Opportunity Value:</div>
<div class="t" style="left:841.86px;top:445.21px;font-size:5.3px;color:#abb1b8;font-weight:normal;">$4,000.00</div>
<div class="a" style="left:785.66px;top:469.00px;width:124.00px;height:58.00px;background:#fff;border-radius:3px;box-shadow:0 0.6px 1.6px rgba(0,0,0,0.09)"></div>
<div class="t" style="left:787.96px;top:476.99px;font-size:5.75px;color:#1f2937;font-weight:bold;">Savannah Ponce</div>
<div class="a" style="left:897.06px;top:474.70px;width:9.80px;height:9.80px;background:#d9e0f4;border-radius:50%;box-shadow:0 0 0 0.5px #cbd3ee"></div>
<div class="t" style="left:701.96px;width:400px;text-align:center;top:477.61px;font-size:4.9px;color:#8a94c0;font-weight:normal;-webkit-text-stroke:0.1px #8a94c0;">JM</div>
<div class="t" style="left:788.36px;top:492.61px;font-size:5.5px;color:#858c96;font-weight:normal;">Opportunity Source:</div>
<div class="t" style="left:841.86px;top:492.76px;font-size:5.2px;color:#abb1b8;font-weight:normal;">Charlottesville GC ($1...</div>
<div class="t" style="left:788.36px;top:505.11px;font-size:5.5px;color:#858c96;font-weight:normal;">Opportunity Value:</div>
<div class="t" style="left:841.86px;top:505.21px;font-size:5.3px;color:#abb1b8;font-weight:normal;">$4,000.00</div>
<div class="a" style="left:785.66px;top:529.00px;width:124.00px;height:58.00px;background:#fff;border-radius:3px;box-shadow:0 0.6px 1.6px rgba(0,0,0,0.09)"></div>
<div class="t" style="left:787.96px;top:536.99px;font-size:5.75px;color:#1f2937;font-weight:bold;">Isabella Sanchez</div>
<div class="a" style="left:897.06px;top:534.70px;width:9.80px;height:9.80px;background:#d9e0f4;border-radius:50%;box-shadow:0 0 0 0.5px #cbd3ee"></div>
<div class="t" style="left:701.96px;width:400px;text-align:center;top:537.61px;font-size:4.9px;color:#8a94c0;font-weight:normal;-webkit-text-stroke:0.1px #8a94c0;">JM</div>
<div class="t" style="left:788.36px;top:552.61px;font-size:5.5px;color:#858c96;font-weight:normal;">Opportunity Source:</div>
<div class="t" style="left:841.86px;top:552.76px;font-size:5.2px;color:#abb1b8;font-weight:normal;">Charlottesville GC ($1...</div>
<div class="t" style="left:788.36px;top:565.11px;font-size:5.5px;color:#858c96;font-weight:normal;">Opportunity Value:</div>
<div class="t" style="left:841.86px;top:565.21px;font-size:5.3px;color:#abb1b8;font-weight:normal;">$4,000.00</div>
<div class="a" style="left:785.66px;top:589.00px;width:124.00px;height:58.00px;background:#fff;border-radius:3px;box-shadow:0 0.6px 1.6px rgba(0,0,0,0.09)"></div>
<div class="t" style="left:787.96px;top:596.99px;font-size:5.75px;color:#1f2937;font-weight:bold;">Maria Rose</div>
<div class="a" style="left:897.06px;top:594.70px;width:9.80px;height:9.80px;background:#d9e0f4;border-radius:50%;box-shadow:0 0 0 0.5px #cbd3ee"></div>
<div class="t" style="left:701.96px;width:400px;text-align:center;top:597.61px;font-size:4.9px;color:#8a94c0;font-weight:normal;-webkit-text-stroke:0.1px #8a94c0;">JM</div>
<div class="t" style="left:788.36px;top:612.61px;font-size:5.5px;color:#858c96;font-weight:normal;">Opportunity Source:</div>
<div class="t" style="left:841.86px;top:612.76px;font-size:5.2px;color:#abb1b8;font-weight:normal;">Charlottesville GC ($1...</div>
<div class="t" style="left:788.36px;top:625.11px;font-size:5.5px;color:#858c96;font-weight:normal;">Opportunity Value:</div>
<div class="t" style="left:841.86px;top:625.21px;font-size:5.3px;color:#abb1b8;font-weight:normal;">$4,000.00</div>
<div class="a" style="left:915.39px;top:320.40px;width:124.50px;height:24.00px;background:#fff;border-top:1.3px solid #b7d1f8;border-radius:2px;box-shadow:0 1px 1.5px rgba(0,0,0,0.06)"></div>
<div class="t" style="left:918.39px;top:326.09px;font-size:5.95px;color:#1f2937;font-weight:bold;">No Venue; Follow Up Later</div>
<div class="t" style="left:918.39px;top:335.11px;font-size:5.1px;color:#b3b8bf;font-weight:normal;">7 Opportunities</div>
<div class="t" style="left:957.69px;top:335.01px;font-size:5.3px;color:#374151;font-weight:bold;">$28,000.00</div>
<div class="a" style="left:915.69px;top:349.00px;width:124.00px;height:58.00px;background:#fff;border-radius:3px;box-shadow:0 0.6px 1.6px rgba(0,0,0,0.09)"></div>
<div class="t" style="left:917.99px;top:356.99px;font-size:5.75px;color:#1f2937;font-weight:bold;">Lily Beth</div>
<div class="a" style="left:1027.09px;top:354.70px;width:9.80px;height:9.80px;background:#d9e0f4;border-radius:50%;box-shadow:0 0 0 0.5px #cbd3ee"></div>
<div class="t" style="left:831.99px;width:400px;text-align:center;top:357.61px;font-size:4.9px;color:#8a94c0;font-weight:normal;-webkit-text-stroke:0.1px #8a94c0;">JM</div>
<div class="t" style="left:918.39px;top:372.61px;font-size:5.5px;color:#858c96;font-weight:normal;">Opportunity Source:</div>
<div class="t" style="left:971.89px;top:372.76px;font-size:5.2px;color:#abb1b8;font-weight:normal;">Charlottesville GC ($1...</div>
<div class="t" style="left:918.39px;top:385.11px;font-size:5.5px;color:#858c96;font-weight:normal;">Opportunity Value:</div>
<div class="t" style="left:971.89px;top:385.21px;font-size:5.3px;color:#abb1b8;font-weight:normal;">$4,000.00</div>
<div class="a" style="left:915.69px;top:409.00px;width:124.00px;height:58.00px;background:#fff;border-radius:3px;box-shadow:0 0.6px 1.6px rgba(0,0,0,0.09)"></div>
<div class="t" style="left:917.99px;top:416.99px;font-size:5.75px;color:#1f2937;font-weight:bold;">Gia Valencia</div>
<div class="a" style="left:1027.09px;top:414.70px;width:9.80px;height:9.80px;background:#d9e0f4;border-radius:50%;box-shadow:0 0 0 0.5px #cbd3ee"></div>
<div class="t" style="left:831.99px;width:400px;text-align:center;top:417.61px;font-size:4.9px;color:#8a94c0;font-weight:normal;-webkit-text-stroke:0.1px #8a94c0;">JM</div>
<div class="t" style="left:918.39px;top:432.61px;font-size:5.5px;color:#858c96;font-weight:normal;">Opportunity Source:</div>
<div class="t" style="left:971.89px;top:432.76px;font-size:5.2px;color:#abb1b8;font-weight:normal;">Charlottesville GC ($1...</div>
<div class="t" style="left:918.39px;top:445.11px;font-size:5.5px;color:#858c96;font-weight:normal;">Opportunity Value:</div>
<div class="t" style="left:971.89px;top:445.21px;font-size:5.3px;color:#abb1b8;font-weight:normal;">$4,000.00</div>
<div class="a" style="left:915.69px;top:469.00px;width:124.00px;height:58.00px;background:#fff;border-radius:3px;box-shadow:0 0.6px 1.6px rgba(0,0,0,0.09)"></div>
<div class="t" style="left:917.99px;top:477.06px;font-size:5.6px;color:#374151;font-weight:bold;letter-spacing:1.4px;">SEPHORA</div>
<div class="a" style="left:1027.09px;top:474.70px;width:9.80px;height:9.80px;background:#d9e0f4;border-radius:50%;box-shadow:0 0 0 0.5px #cbd3ee"></div>
<div class="t" style="left:831.99px;width:400px;text-align:center;top:477.61px;font-size:4.9px;color:#8a94c0;font-weight:normal;-webkit-text-stroke:0.1px #8a94c0;">JM</div>
<div class="t" style="left:918.39px;top:492.61px;font-size:5.5px;color:#858c96;font-weight:normal;">Opportunity Source:</div>
<div class="t" style="left:971.89px;top:492.76px;font-size:5.2px;color:#abb1b8;font-weight:normal;">Charlottesville GC ($1...</div>
<div class="t" style="left:918.39px;top:505.11px;font-size:5.5px;color:#858c96;font-weight:normal;">Opportunity Value:</div>
<div class="t" style="left:971.89px;top:505.21px;font-size:5.3px;color:#abb1b8;font-weight:normal;">$4,000.00</div>
<div class="a" style="left:915.69px;top:529.00px;width:124.00px;height:58.00px;background:#fff;border-radius:3px;box-shadow:0 0.6px 1.6px rgba(0,0,0,0.09)"></div>
<div class="t" style="left:917.99px;top:536.99px;font-size:5.75px;color:#1f2937;font-weight:bold;">Ysabel Fernandez</div>
<div class="a" style="left:1027.09px;top:534.70px;width:9.80px;height:9.80px;background:#d9e0f4;border-radius:50%;box-shadow:0 0 0 0.5px #cbd3ee"></div>
<div class="t" style="left:831.99px;width:400px;text-align:center;top:537.61px;font-size:4.9px;color:#8a94c0;font-weight:normal;-webkit-text-stroke:0.1px #8a94c0;">JM</div>
<div class="t" style="left:918.39px;top:552.61px;font-size:5.5px;color:#858c96;font-weight:normal;">Opportunity Source:</div>
<div class="t" style="left:971.89px;top:552.76px;font-size:5.2px;color:#abb1b8;font-weight:normal;">Wedding GC3 - $1000...</div>
<div class="t" style="left:918.39px;top:565.11px;font-size:5.5px;color:#858c96;font-weight:normal;">Opportunity Value:</div>
<div class="t" style="left:971.89px;top:565.21px;font-size:5.3px;color:#abb1b8;font-weight:normal;">$4,000.00</div>
<div class="a" style="left:915.69px;top:589.00px;width:124.00px;height:58.00px;background:#fff;border-radius:3px;box-shadow:0 0.6px 1.6px rgba(0,0,0,0.09)"></div>
<div class="t" style="left:917.99px;top:596.99px;font-size:5.75px;color:#1f2937;font-weight:bold;">Mackenzie Joyce</div>
<div class="a" style="left:1027.09px;top:594.70px;width:9.80px;height:9.80px;background:#d9e0f4;border-radius:50%;box-shadow:0 0 0 0.5px #cbd3ee"></div>
<div class="t" style="left:831.99px;width:400px;text-align:center;top:597.61px;font-size:4.9px;color:#8a94c0;font-weight:normal;-webkit-text-stroke:0.1px #8a94c0;">JM</div>
<div class="t" style="left:918.39px;top:612.61px;font-size:5.5px;color:#858c96;font-weight:normal;">Opportunity Source:</div>
<div class="t" style="left:971.89px;top:612.76px;font-size:5.2px;color:#abb1b8;font-weight:normal;">Wedding GC3 - $1000...</div>
<div class="t" style="left:918.39px;top:625.11px;font-size:5.5px;color:#858c96;font-weight:normal;">Opportunity Value:</div>
<div class="t" style="left:971.89px;top:625.21px;font-size:5.3px;color:#abb1b8;font-weight:normal;">$4,000.00</div>
<div class="a" style="left:1045.42px;top:320.40px;width:124.50px;height:24.00px;background:#fff;border-top:1.3px solid #f8cdb2;border-radius:2px;box-shadow:0 1px 1.5px rgba(0,0,0,0.06)"></div>
<div class="t" style="left:1048.42px;top:326.09px;font-size:5.95px;color:#1f2937;font-weight:bold;">Warmer Conversation</div>
<div class="t" style="left:1048.42px;top:335.11px;font-size:5.1px;color:#b3b8bf;font-weight:normal;">30 Opportunities</div>
<div class="t" style="left:1090.52px;top:335.01px;font-size:5.3px;color:#374151;font-weight:bold;">$120,500.00</div>
<div class="a" style="left:1045.72px;top:349.00px;width:124.00px;height:58.00px;background:#fff;border-radius:3px;box-shadow:0 0.6px 1.6px rgba(0,0,0,0.09)"></div>
<div class="t" style="left:1048.02px;top:356.99px;font-size:5.75px;color:#1f2937;font-weight:bold;">Maddie Hickey</div>
<div class="a" style="left:1157.12px;top:354.70px;width:9.80px;height:9.80px;background:#d9e0f4;border-radius:50%;box-shadow:0 0 0 0.5px #cbd3ee"></div>
<div class="t" style="left:962.02px;width:400px;text-align:center;top:357.61px;font-size:4.9px;color:#8a94c0;font-weight:normal;-webkit-text-stroke:0.1px #8a94c0;">JM</div>
<div class="t" style="left:1048.42px;top:372.61px;font-size:5.5px;color:#858c96;font-weight:normal;">Opportunity Source:</div>
<div class="t" style="left:1101.92px;top:372.76px;font-size:5.2px;color:#abb1b8;font-weight:normal;">Charlottesville GC ($1...</div>
<div class="t" style="left:1048.42px;top:385.11px;font-size:5.5px;color:#858c96;font-weight:normal;">Opportunity Value:</div>
<div class="t" style="left:1101.92px;top:385.21px;font-size:5.3px;color:#abb1b8;font-weight:normal;">$4,000.00</div>
<div class="a" style="left:1045.72px;top:409.00px;width:124.00px;height:58.00px;background:#fff;border-radius:3px;box-shadow:0 0.6px 1.6px rgba(0,0,0,0.09)"></div>
<div class="t" style="left:1048.02px;top:416.99px;font-size:5.75px;color:#1f2937;font-weight:bold;">Trevor Loving</div>
<div class="a" style="left:1157.12px;top:414.70px;width:9.80px;height:9.80px;background:#d9e0f4;border-radius:50%;box-shadow:0 0 0 0.5px #cbd3ee"></div>
<div class="t" style="left:962.02px;width:400px;text-align:center;top:417.61px;font-size:4.9px;color:#8a94c0;font-weight:normal;-webkit-text-stroke:0.1px #8a94c0;">JM</div>
<div class="t" style="left:1048.42px;top:432.61px;font-size:5.5px;color:#858c96;font-weight:normal;">Opportunity Source:</div>
<div class="t" style="left:1101.92px;top:432.76px;font-size:5.2px;color:#abb1b8;font-weight:normal;">Charlottesville GC ($1...</div>
<div class="t" style="left:1048.42px;top:445.11px;font-size:5.5px;color:#858c96;font-weight:normal;">Opportunity Value:</div>
<div class="t" style="left:1101.92px;top:445.21px;font-size:5.3px;color:#abb1b8;font-weight:normal;">$4,000.00</div>
<div class="a" style="left:1045.72px;top:469.00px;width:124.00px;height:58.00px;background:#fff;border-radius:3px;box-shadow:0 0.6px 1.6px rgba(0,0,0,0.09)"></div>
<div class="t" style="left:1048.02px;top:476.99px;font-size:5.75px;color:#1f2937;font-weight:bold;">Byron Minson</div>
<div class="a" style="left:1157.12px;top:474.70px;width:9.80px;height:9.80px;background:#d9e0f4;border-radius:50%;box-shadow:0 0 0 0.5px #cbd3ee"></div>
<div class="t" style="left:962.02px;width:400px;text-align:center;top:477.61px;font-size:4.9px;color:#8a94c0;font-weight:normal;-webkit-text-stroke:0.1px #8a94c0;">JM</div>
<div class="t" style="left:1048.42px;top:492.61px;font-size:5.5px;color:#858c96;font-weight:normal;">Opportunity Source:</div>
<div class="t" style="left:1101.92px;top:492.76px;font-size:5.2px;color:#abb1b8;font-weight:normal;">Charlottesville GC ($1...</div>
<div class="t" style="left:1048.42px;top:505.11px;font-size:5.5px;color:#858c96;font-weight:normal;">Opportunity Value:</div>
<div class="t" style="left:1101.92px;top:505.21px;font-size:5.3px;color:#abb1b8;font-weight:normal;">$4,000.00</div>
<div class="a" style="left:1045.72px;top:529.00px;width:124.00px;height:58.00px;background:#fff;border-radius:3px;box-shadow:0 0.6px 1.6px rgba(0,0,0,0.09)"></div>
<div class="t" style="left:1048.02px;top:536.99px;font-size:5.75px;color:#1f2937;font-weight:bold;">Peyton Butler</div>
<div class="a" style="left:1157.12px;top:534.70px;width:9.80px;height:9.80px;background:#d9e0f4;border-radius:50%;box-shadow:0 0 0 0.5px #cbd3ee"></div>
<div class="t" style="left:962.02px;width:400px;text-align:center;top:537.61px;font-size:4.9px;color:#8a94c0;font-weight:normal;-webkit-text-stroke:0.1px #8a94c0;">JM</div>
<div class="t" style="left:1048.42px;top:552.61px;font-size:5.5px;color:#858c96;font-weight:normal;">Opportunity Source:</div>
<div class="t" style="left:1101.92px;top:552.76px;font-size:5.2px;color:#abb1b8;font-weight:normal;">Charlottesville GC ($1...</div>
<div class="t" style="left:1048.42px;top:565.11px;font-size:5.5px;color:#858c96;font-weight:normal;">Opportunity Value:</div>
<div class="t" style="left:1101.92px;top:565.21px;font-size:5.3px;color:#abb1b8;font-weight:normal;">$4,000.00</div>
<div class="a" style="left:1045.72px;top:589.00px;width:124.00px;height:58.00px;background:#fff;border-radius:3px;box-shadow:0 0.6px 1.6px rgba(0,0,0,0.09)"></div>
<div class="t" style="left:1048.02px;top:596.99px;font-size:5.75px;color:#1f2937;font-weight:bold;">Rachel McCann</div>
<div class="a" style="left:1157.12px;top:594.70px;width:9.80px;height:9.80px;background:#d9e0f4;border-radius:50%;box-shadow:0 0 0 0.5px #cbd3ee"></div>
<div class="t" style="left:962.02px;width:400px;text-align:center;top:597.61px;font-size:4.9px;color:#8a94c0;font-weight:normal;-webkit-text-stroke:0.1px #8a94c0;">JM</div>
<div class="t" style="left:1048.42px;top:612.61px;font-size:5.5px;color:#858c96;font-weight:normal;">Opportunity Source:</div>
<div class="t" style="left:1101.92px;top:612.76px;font-size:5.2px;color:#abb1b8;font-weight:normal;">Charlottesville GC ($1...</div>
<div class="t" style="left:1048.42px;top:625.11px;font-size:5.5px;color:#858c96;font-weight:normal;">Opportunity Value:</div>
<div class="t" style="left:1101.92px;top:625.21px;font-size:5.3px;color:#abb1b8;font-weight:normal;">$4,000.00</div>
<svg style="left:0;top:0" width="1200" height="675"><path d="M528.90 398.00 q0.3-0.6 0.9-0.6 l0.9 1.5 l-0.7 0.7 q0.6 1.5 2 2.1 l0.7-0.7 l1.5 0.9 q0 0.6-0.6 0.9 q-2.2 0.3-3.8-1.4 q-1.3-1.6-0.9-3.4z M532.10 397.60 q1.9 0.3 2.1 2.2 M532.00 399.00 q0.8 0.1 0.9 0.9" fill="none" stroke="#a3a9b1" stroke-width="0.75"/><path d="M541.70 397.90 a2.5 2.4 0 1 1 -1.6 4.3 l-1.1 0.4 l0.4-1.1 a2.5 2.4 0 0 1 2.3-3.6z" fill="none" stroke="#a3a9b1" stroke-width="0.75"/><path d="M552.40 397.90 a2.5 2.4 0 1 1 -1.6 4.3 l-1.1 0.4 l0.4-1.1 a2.5 2.4 0 0 1 2.3-3.6z" fill="none" stroke="#a3a9b1" stroke-width="0.75"/><circle cx="555.10" cy="398.10" r="2.75" fill="#2563eb"/><path d="M555.10 396.90 v2.3" stroke="#dbe7ff" stroke-width="0.5"/><path d="M561.30 397.60 h2.5 l1.5 1.5 v4.1 h-4z M563.80 397.60 v1.5 h1.5 M562.30 400.80 h2 M562.30 401.90 h2" fill="none" stroke="#a3a9b1" stroke-width="0.75"/><path d="M571.90 397.90 h5 v5 h-5z M573.10 400.50 l1 1 l1.8-1.9" fill="none" stroke="#a3a9b1" stroke-width="0.75"/><path d="M582.50 398.30 h4.8 v4.8 h-4.8z M582.50 399.80 h4.8 M583.80 397.40 v1.5 M586.00 397.40 v1.5 M584.00 401.00 h1.8 v1.2 h-1.8z" fill="none" stroke="#a3a9b1" stroke-width="0.75"/><path d="M528.90 458.00 q0.3-0.6 0.9-0.6 l0.9 1.5 l-0.7 0.7 q0.6 1.5 2 2.1 l0.7-0.7 l1.5 0.9 q0 0.6-0.6 0.9 q-2.2 0.3-3.8-1.4 q-1.3-1.6-0.9-3.4z M532.10 457.60 q1.9 0.3 2.1 2.2 M532.00 459.00 q0.8 0.1 0.9 0.9" fill="none" stroke="#a3a9b1" stroke-width="0.75"/><path d="M541.70 457.90 a2.5 2.4 0 1 1 -1.6 4.3 l-1.1 0.4 l0.4-1.1 a2.5 2.4 0 0 1 2.3-3.6z" fill="none" stroke="#a3a9b1" stroke-width="0.75"/><path d="M552.40 457.90 a2.5 2.4 0 1 1 -1.6 4.3 l-1.1 0.4 l0.4-1.1 a2.5 2.4 0 0 1 2.3-3.6z" fill="none" stroke="#a3a9b1" stroke-width="0.75"/><circle cx="555.10" cy="458.10" r="2.75" fill="#2563eb"/><path d="M555.10 456.90 v2.3" stroke="#dbe7ff" stroke-width="0.5"/><path d="M561.30 457.60 h2.5 l1.5 1.5 v4.1 h-4z M563.80 457.60 v1.5 h1.5 M562.30 460.80 h2 M562.30 461.90 h2" fill="none" stroke="#a3a9b1" stroke-width="0.75"/><path d="M571.90 457.90 h5 v5 h-5z M573.10 460.50 l1 1 l1.8-1.9" fill="none" stroke="#a3a9b1" stroke-width="0.75"/><path d="M582.50 458.30 h4.8 v4.8 h-4.8z M582.50 459.80 h4.8 M583.80 457.40 v1.5 M586.00 457.40 v1.5 M584.00 461.00 h1.8 v1.2 h-1.8z" fill="none" stroke="#a3a9b1" stroke-width="0.75"/><path d="M528.90 518.00 q0.3-0.6 0.9-0.6 l0.9 1.5 l-0.7 0.7 q0.6 1.5 2 2.1 l0.7-0.7 l1.5 0.9 q0 0.6-0.6 0.9 q-2.2 0.3-3.8-1.4 q-1.3-1.6-0.9-3.4z M532.10 517.60 q1.9 0.3 2.1 2.2 M532.00 519.00 q0.8 0.1 0.9 0.9" fill="none" stroke="#a3a9b1" stroke-width="0.75"/><path d="M541.70 517.90 a2.5 2.4 0 1 1 -1.6 4.3 l-1.1 0.4 l0.4-1.1 a2.5 2.4 0 0 1 2.3-3.6z" fill="none" stroke="#a3a9b1" stroke-width="0.75"/><path d="M552.40 517.90 a2.5 2.4 0 1 1 -1.6 4.3 l-1.1 0.4 l0.4-1.1 a2.5 2.4 0 0 1 2.3-3.6z" fill="none" stroke="#a3a9b1" stroke-width="0.75"/><circle cx="555.10" cy="518.10" r="2.75" fill="#2563eb"/><path d="M555.10 516.90 v2.3" stroke="#dbe7ff" stroke-width="0.5"/><path d="M561.30 517.60 h2.5 l1.5 1.5 v4.1 h-4z M563.80 517.60 v1.5 h1.5 M562.30 520.80 h2 M562.30 521.90 h2" fill="none" stroke="#a3a9b1" stroke-width="0.75"/><path d="M571.90 517.90 h5 v5 h-5z M573.10 520.50 l1 1 l1.8-1.9" fill="none" stroke="#a3a9b1" stroke-width="0.75"/><path d="M582.50 518.30 h4.8 v4.8 h-4.8z M582.50 519.80 h4.8 M583.80 517.40 v1.5 M586.00 517.40 v1.5 M584.00 521.00 h1.8 v1.2 h-1.8z" fill="none" stroke="#a3a9b1" stroke-width="0.75"/><path d="M528.90 578.00 q0.3-0.6 0.9-0.6 l0.9 1.5 l-0.7 0.7 q0.6 1.5 2 2.1 l0.7-0.7 l1.5 0.9 q0 0.6-0.6 0.9 q-2.2 0.3-3.8-1.4 q-1.3-1.6-0.9-3.4z M532.10 577.60 q1.9 0.3 2.1 2.2 M532.00 579.00 q0.8 0.1 0.9 0.9" fill="none" stroke="#a3a9b1" stroke-width="0.75"/><path d="M541.70 577.90 a2.5 2.4 0 1 1 -1.6 4.3 l-1.1 0.4 l0.4-1.1 a2.5 2.4 0 0 1 2.3-3.6z" fill="none" stroke="#a3a9b1" stroke-width="0.75"/><path d="M552.40 577.90 a2.5 2.4 0 1 1 -1.6 4.3 l-1.1 0.4 l0.4-1.1 a2.5 2.4 0 0 1 2.3-3.6z" fill="none" stroke="#a3a9b1" stroke-width="0.75"/><circle cx="555.10" cy="578.10" r="2.75" fill="#2563eb"/><path d="M555.10 576.90 v2.3" stroke="#dbe7ff" stroke-width="0.5"/><path d="M561.30 577.60 h2.5 l1.5 1.5 v4.1 h-4z M563.80 577.60 v1.5 h1.5 M562.30 580.80 h2 M562.30 581.90 h2" fill="none" stroke="#a3a9b1" stroke-width="0.75"/><path d="M571.90 577.90 h5 v5 h-5z M573.10 580.50 l1 1 l1.8-1.9" fill="none" stroke="#a3a9b1" stroke-width="0.75"/><path d="M582.50 578.30 h4.8 v4.8 h-4.8z M582.50 579.80 h4.8 M583.80 577.40 v1.5 M586.00 577.40 v1.5 M584.00 581.00 h1.8 v1.2 h-1.8z" fill="none" stroke="#a3a9b1" stroke-width="0.75"/><path d="M528.90 638.00 q0.3-0.6 0.9-0.6 l0.9 1.5 l-0.7 0.7 q0.6 1.5 2 2.1 l0.7-0.7 l1.5 0.9 q0 0.6-0.6 0.9 q-2.2 0.3-3.8-1.4 q-1.3-1.6-0.9-3.4z M532.10 637.60 q1.9 0.3 2.1 2.2 M532.00 639.00 q0.8 0.1 0.9 0.9" fill="none" stroke="#a3a9b1" stroke-width="0.75"/><path d="M541.70 637.90 a2.5 2.4 0 1 1 -1.6 4.3 l-1.1 0.4 l0.4-1.1 a2.5 2.4 0 0 1 2.3-3.6z" fill="none" stroke="#a3a9b1" stroke-width="0.75"/><path d="M552.40 637.90 a2.5 2.4 0 1 1 -1.6 4.3 l-1.1 0.4 l0.4-1.1 a2.5 2.4 0 0 1 2.3-3.6z" fill="none" stroke="#a3a9b1" stroke-width="0.75"/><circle cx="555.10" cy="638.10" r="2.75" fill="#2563eb"/><path d="M555.10 636.90 v2.3" stroke="#dbe7ff" stroke-width="0.5"/><path d="M561.30 637.60 h2.5 l1.5 1.5 v4.1 h-4z M563.80 637.60 v1.5 h1.5 M562.30 640.80 h2 M562.30 641.90 h2" fill="none" stroke="#a3a9b1" stroke-width="0.75"/><path d="M571.90 637.90 h5 v5 h-5z M573.10 640.50 l1 1 l1.8-1.9" fill="none" stroke="#a3a9b1" stroke-width="0.75"/><path d="M582.50 638.30 h4.8 v4.8 h-4.8z M582.50 639.80 h4.8 M583.80 637.40 v1.5 M586.00 637.40 v1.5 M584.00 641.00 h1.8 v1.2 h-1.8z" fill="none" stroke="#a3a9b1" stroke-width="0.75"/><path d="M658.93 398.00 q0.3-0.6 0.9-0.6 l0.9 1.5 l-0.7 0.7 q0.6 1.5 2 2.1 l0.7-0.7 l1.5 0.9 q0 0.6-0.6 0.9 q-2.2 0.3-3.8-1.4 q-1.3-1.6-0.9-3.4z M662.13 397.60 q1.9 0.3 2.1 2.2 M662.03 399.00 q0.8 0.1 0.9 0.9" fill="none" stroke="#a3a9b1" stroke-width="0.75"/><path d="M671.73 397.90 a2.5 2.4 0 1 1 -1.6 4.3 l-1.1 0.4 l0.4-1.1 a2.5 2.4 0 0 1 2.3-3.6z" fill="none" stroke="#a3a9b1" stroke-width="0.75"/><circle cx="674.23" cy="398.10" r="2.75" fill="#2563eb"/><path d="M674.23 396.90 v2.3" stroke="#dbe7ff" stroke-width="0.5"/><path d="M682.43 397.90 a2.5 2.4 0 1 1 -1.6 4.3 l-1.1 0.4 l0.4-1.1 a2.5 2.4 0 0 1 2.3-3.6z" fill="none" stroke="#a3a9b1" stroke-width="0.75"/><circle cx="685.13" cy="398.10" r="2.75" fill="#2563eb"/><path d="M685.13 396.90 v2.3" stroke="#dbe7ff" stroke-width="0.5"/><path d="M691.33 397.60 h2.5 l1.5 1.5 v4.1 h-4z M693.83 397.60 v1.5 h1.5 M692.33 400.80 h2 M692.33 401.90 h2" fill="none" stroke="#a3a9b1" stroke-width="0.75"/><path d="M701.93 397.90 h5 v5 h-5z M703.13 400.50 l1 1 l1.8-1.9" fill="none" stroke="#a3a9b1" stroke-width="0.75"/><path d="M712.53 398.30 h4.8 v4.8 h-4.8z M712.53 399.80 h4.8 M713.83 397.40 v1.5 M716.03 397.40 v1.5 M714.03 401.00 h1.8 v1.2 h-1.8z" fill="none" stroke="#a3a9b1" stroke-width="0.75"/><path d="M658.93 458.00 q0.3-0.6 0.9-0.6 l0.9 1.5 l-0.7 0.7 q0.6 1.5 2 2.1 l0.7-0.7 l1.5 0.9 q0 0.6-0.6 0.9 q-2.2 0.3-3.8-1.4 q-1.3-1.6-0.9-3.4z M662.13 457.60 q1.9 0.3 2.1 2.2 M662.03 459.00 q0.8 0.1 0.9 0.9" fill="none" stroke="#a3a9b1" stroke-width="0.75"/><path d="M671.73 457.90 a2.5 2.4 0 1 1 -1.6 4.3 l-1.1 0.4 l0.4-1.1 a2.5 2.4 0 0 1 2.3-3.6z" fill="none" stroke="#a3a9b1" stroke-width="0.75"/><path d="M682.43 457.90 a2.5 2.4 0 1 1 -1.6 4.3 l-1.1 0.4 l0.4-1.1 a2.5 2.4 0 0 1 2.3-3.6z" fill="none" stroke="#a3a9b1" stroke-width="0.75"/><circle cx="685.13" cy="458.10" r="2.75" fill="#2563eb"/><path d="M685.13 456.90 v2.3" stroke="#dbe7ff" stroke-width="0.5"/><path d="M691.33 457.60 h2.5 l1.5 1.5 v4.1 h-4z M693.83 457.60 v1.5 h1.5 M692.33 460.80 h2 M692.33 461.90 h2" fill="none" stroke="#a3a9b1" stroke-width="0.75"/><path d="M701.93 457.90 h5 v5 h-5z M703.13 460.50 l1 1 l1.8-1.9" fill="none" stroke="#a3a9b1" stroke-width="0.75"/><path d="M712.53 458.30 h4.8 v4.8 h-4.8z M712.53 459.80 h4.8 M713.83 457.40 v1.5 M716.03 457.40 v1.5 M714.03 461.00 h1.8 v1.2 h-1.8z" fill="none" stroke="#a3a9b1" stroke-width="0.75"/><path d="M658.93 518.00 q0.3-0.6 0.9-0.6 l0.9 1.5 l-0.7 0.7 q0.6 1.5 2 2.1 l0.7-0.7 l1.5 0.9 q0 0.6-0.6 0.9 q-2.2 0.3-3.8-1.4 q-1.3-1.6-0.9-3.4z M662.13 517.60 q1.9 0.3 2.1 2.2 M662.03 519.00 q0.8 0.1 0.9 0.9" fill="none" stroke="#a3a9b1" stroke-width="0.75"/><path d="M671.73 517.90 a2.5 2.4 0 1 1 -1.6 4.3 l-1.1 0.4 l0.4-1.1 a2.5 2.4 0 0 1 2.3-3.6z" fill="none" stroke="#a3a9b1" stroke-width="0.75"/><path d="M682.43 517.90 a2.5 2.4 0 1 1 -1.6 4.3 l-1.1 0.4 l0.4-1.1 a2.5 2.4 0 0 1 2.3-3.6z" fill="none" stroke="#a3a9b1" stroke-width="0.75"/><circle cx="685.13" cy="518.10" r="2.75" fill="#2563eb"/><path d="M685.13 516.90 v2.3" stroke="#dbe7ff" stroke-width="0.5"/><path d="M691.33 517.60 h2.5 l1.5 1.5 v4.1 h-4z M693.83 517.60 v1.5 h1.5 M692.33 520.80 h2 M692.33 521.90 h2" fill="none" stroke="#a3a9b1" stroke-width="0.75"/><path d="M701.93 517.90 h5 v5 h-5z M703.13 520.50 l1 1 l1.8-1.9" fill="none" stroke="#a3a9b1" stroke-width="0.75"/><path d="M712.53 518.30 h4.8 v4.8 h-4.8z M712.53 519.80 h4.8 M713.83 517.40 v1.5 M716.03 517.40 v1.5 M714.03 521.00 h1.8 v1.2 h-1.8z" fill="none" stroke="#a3a9b1" stroke-width="0.75"/><path d="M658.93 578.00 q0.3-0.6 0.9-0.6 l0.9 1.5 l-0.7 0.7 q0.6 1.5 2 2.1 l0.7-0.7 l1.5 0.9 q0 0.6-0.6 0.9 q-2.2 0.3-3.8-1.4 q-1.3-1.6-0.9-3.4z M662.13 577.60 q1.9 0.3 2.1 2.2 M662.03 579.00 q0.8 0.1 0.9 0.9" fill="none" stroke="#a3a9b1" stroke-width="0.75"/><path d="M671.73 577.90 a2.5 2.4 0 1 1 -1.6 4.3 l-1.1 0.4 l0.4-1.1 a2.5 2.4 0 0 1 2.3-3.6z" fill="none" stroke="#a3a9b1" stroke-width="0.75"/><circle cx="674.23" cy="578.10" r="2.75" fill="#2563eb"/><path d="M674.23 576.90 v2.3" stroke="#dbe7ff" stroke-width="0.5"/><path d="M682.43 577.90 a2.5 2.4 0 1 1 -1.6 4.3 l-1.1 0.4 l0.4-1.1 a2.5 2.4 0 0 1 2.3-3.6z" fill="none" stroke="#a3a9b1" stroke-width="0.75"/><circle cx="685.13" cy="578.10" r="2.75" fill="#2563eb"/><path d="M685.13 576.90 v2.3" stroke="#dbe7ff" stroke-width="0.5"/><path d="M691.33 577.60 h2.5 l1.5 1.5 v4.1 h-4z M693.83 577.60 v1.5 h1.5 M692.33 580.80 h2 M692.33 581.90 h2" fill="none" stroke="#a3a9b1" stroke-width="0.75"/><path d="M701.93 577.90 h5 v5 h-5z M703.13 580.50 l1 1 l1.8-1.9" fill="none" stroke="#a3a9b1" stroke-width="0.75"/><path d="M712.53 578.30 h4.8 v4.8 h-4.8z M712.53 579.80 h4.8 M713.83 577.40 v1.5 M716.03 577.40 v1.5 M714.03 581.00 h1.8 v1.2 h-1.8z" fill="none" stroke="#a3a9b1" stroke-width="0.75"/><path d="M658.93 638.00 q0.3-0.6 0.9-0.6 l0.9 1.5 l-0.7 0.7 q0.6 1.5 2 2.1 l0.7-0.7 l1.5 0.9 q0 0.6-0.6 0.9 q-2.2 0.3-3.8-1.4 q-1.3-1.6-0.9-3.4z M662.13 637.60 q1.9 0.3 2.1 2.2 M662.03 639.00 q0.8 0.1 0.9 0.9" fill="none" stroke="#a3a9b1" stroke-width="0.75"/><path d="M671.73 637.90 a2.5 2.4 0 1 1 -1.6 4.3 l-1.1 0.4 l0.4-1.1 a2.5 2.4 0 0 1 2.3-3.6z" fill="none" stroke="#a3a9b1" stroke-width="0.75"/><path d="M682.43 637.90 a2.5 2.4 0 1 1 -1.6 4.3 l-1.1 0.4 l0.4-1.1 a2.5 2.4 0 0 1 2.3-3.6z" fill="none" stroke="#a3a9b1" stroke-width="0.75"/><circle cx="685.13" cy="638.10" r="2.75" fill="#2563eb"/><path d="M685.13 636.90 v2.3" stroke="#dbe7ff" stroke-width="0.5"/><path d="M691.33 637.60 h2.5 l1.5 1.5 v4.1 h-4z M693.83 637.60 v1.5 h1.5 M692.33 640.80 h2 M692.33 641.90 h2" fill="none" stroke="#a3a9b1" stroke-width="0.75"/><path d="M701.93 637.90 h5 v5 h-5z M703.13 640.50 l1 1 l1.8-1.9" fill="none" stroke="#a3a9b1" stroke-width="0.75"/><path d="M712.53 638.30 h4.8 v4.8 h-4.8z M712.53 639.80 h4.8 M713.83 637.40 v1.5 M716.03 637.40 v1.5 M714.03 641.00 h1.8 v1.2 h-1.8z" fill="none" stroke="#a3a9b1" stroke-width="0.75"/><path d="M788.96 398.00 q0.3-0.6 0.9-0.6 l0.9 1.5 l-0.7 0.7 q0.6 1.5 2 2.1 l0.7-0.7 l1.5 0.9 q0 0.6-0.6 0.9 q-2.2 0.3-3.8-1.4 q-1.3-1.6-0.9-3.4z M792.16 397.60 q1.9 0.3 2.1 2.2 M792.06 399.00 q0.8 0.1 0.9 0.9" fill="none" stroke="#a3a9b1" stroke-width="0.75"/><path d="M801.76 397.90 a2.5 2.4 0 1 1 -1.6 4.3 l-1.1 0.4 l0.4-1.1 a2.5 2.4 0 0 1 2.3-3.6z" fill="none" stroke="#a3a9b1" stroke-width="0.75"/><path d="M812.46 397.90 a2.5 2.4 0 1 1 -1.6 4.3 l-1.1 0.4 l0.4-1.1 a2.5 2.4 0 0 1 2.3-3.6z" fill="none" stroke="#a3a9b1" stroke-width="0.75"/><circle cx="815.16" cy="398.10" r="2.75" fill="#2563eb"/><path d="M815.16 396.90 v2.3" stroke="#dbe7ff" stroke-width="0.5"/><path d="M821.36 397.60 h2.5 l1.5 1.5 v4.1 h-4z M823.86 397.60 v1.5 h1.5 M822.36 400.80 h2 M822.36 401.90 h2" fill="none" stroke="#a3a9b1" stroke-width="0.75"/><path d="M831.96 397.90 h5 v5 h-5z M833.16 400.50 l1 1 l1.8-1.9" fill="none" stroke="#a3a9b1" stroke-width="0.75"/><path d="M842.56 398.30 h4.8 v4.8 h-4.8z M842.56 399.80 h4.8 M843.86 397.40 v1.5 M846.06 397.40 v1.5 M844.06 401.00 h1.8 v1.2 h-1.8z" fill="none" stroke="#a3a9b1" stroke-width="0.75"/><path d="M788.96 458.00 q0.3-0.6 0.9-0.6 l0.9 1.5 l-0.7 0.7 q0.6 1.5 2 2.1 l0.7-0.7 l1.5 0.9 q0 0.6-0.6 0.9 q-2.2 0.3-3.8-1.4 q-1.3-1.6-0.9-3.4z M792.16 457.60 q1.9 0.3 2.1 2.2 M792.06 459.00 q0.8 0.1 0.9 0.9" fill="none" stroke="#a3a9b1" stroke-width="0.75"/><path d="M801.76 457.90 a2.5 2.4 0 1 1 -1.6 4.3 l-1.1 0.4 l0.4-1.1 a2.5 2.4 0 0 1 2.3-3.6z" fill="none" stroke="#a3a9b1" stroke-width="0.75"/><path d="M812.46 457.90 a2.5 2.4 0 1 1 -1.6 4.3 l-1.1 0.4 l0.4-1.1 a2.5 2.4 0 0 1 2.3-3.6z" fill="none" stroke="#a3a9b1" stroke-width="0.75"/><circle cx="815.16" cy="458.10" r="2.75" fill="#2563eb"/><path d="M815.16 456.90 v2.3" stroke="#dbe7ff" stroke-width="0.5"/><path d="M821.36 457.60 h2.5 l1.5 1.5 v4.1 h-4z M823.86 457.60 v1.5 h1.5 M822.36 460.80 h2 M822.36 461.90 h2" fill="none" stroke="#a3a9b1" stroke-width="0.75"/><path d="M831.96 457.90 h5 v5 h-5z M833.16 460.50 l1 1 l1.8-1.9" fill="none" stroke="#a3a9b1" stroke-width="0.75"/><path d="M842.56 458.30 h4.8 v4.8 h-4.8z M842.56 459.80 h4.8 M843.86 457.40 v1.5 M846.06 457.40 v1.5 M844.06 461.00 h1.8 v1.2 h-1.8z" fill="none" stroke="#a3a9b1" stroke-width="0.75"/><path d="M788.96 518.00 q0.3-0.6 0.9-0.6 l0.9 1.5 l-0.7 0.7 q0.6 1.5 2 2.1 l0.7-0.7 l1.5 0.9 q0 0.6-0.6 0.9 q-2.2 0.3-3.8-1.4 q-1.3-1.6-0.9-3.4z M792.16 517.60 q1.9 0.3 2.1 2.2 M792.06 519.00 q0.8 0.1 0.9 0.9" fill="none" stroke="#a3a9b1" stroke-width="0.75"/><path d="M801.76 517.90 a2.5 2.4 0 1 1 -1.6 4.3 l-1.1 0.4 l0.4-1.1 a2.5 2.4 0 0 1 2.3-3.6z" fill="none" stroke="#a3a9b1" stroke-width="0.75"/><path d="M812.46 517.90 a2.5 2.4 0 1 1 -1.6 4.3 l-1.1 0.4 l0.4-1.1 a2.5 2.4 0 0 1 2.3-3.6z" fill="none" stroke="#a3a9b1" stroke-width="0.75"/><circle cx="815.16" cy="518.10" r="2.75" fill="#2563eb"/><path d="M815.16 516.90 v2.3" stroke="#dbe7ff" stroke-width="0.5"/><path d="M821.36 517.60 h2.5 l1.5 1.5 v4.1 h-4z M823.86 517.60 v1.5 h1.5 M822.36 520.80 h2 M822.36 521.90 h2" fill="none" stroke="#a3a9b1" stroke-width="0.75"/><path d="M831.96 517.90 h5 v5 h-5z M833.16 520.50 l1 1 l1.8-1.9" fill="none" stroke="#a3a9b1" stroke-width="0.75"/><path d="M842.56 518.30 h4.8 v4.8 h-4.8z M842.56 519.80 h4.8 M843.86 517.40 v1.5 M846.06 517.40 v1.5 M844.06 521.00 h1.8 v1.2 h-1.8z" fill="none" stroke="#a3a9b1" stroke-width="0.75"/><path d="M788.96 578.00 q0.3-0.6 0.9-0.6 l0.9 1.5 l-0.7 0.7 q0.6 1.5 2 2.1 l0.7-0.7 l1.5 0.9 q0 0.6-0.6 0.9 q-2.2 0.3-3.8-1.4 q-1.3-1.6-0.9-3.4z M792.16 577.60 q1.9 0.3 2.1 2.2 M792.06 579.00 q0.8 0.1 0.9 0.9" fill="none" stroke="#a3a9b1" stroke-width="0.75"/><path d="M801.76 577.90 a2.5 2.4 0 1 1 -1.6 4.3 l-1.1 0.4 l0.4-1.1 a2.5 2.4 0 0 1 2.3-3.6z" fill="none" stroke="#a3a9b1" stroke-width="0.75"/><path d="M812.46 577.90 a2.5 2.4 0 1 1 -1.6 4.3 l-1.1 0.4 l0.4-1.1 a2.5 2.4 0 0 1 2.3-3.6z" fill="none" stroke="#a3a9b1" stroke-width="0.75"/><circle cx="815.16" cy="578.10" r="2.75" fill="#2563eb"/><path d="M815.16 576.90 v2.3" stroke="#dbe7ff" stroke-width="0.5"/><path d="M821.36 577.60 h2.5 l1.5 1.5 v4.1 h-4z M823.86 577.60 v1.5 h1.5 M822.36 580.80 h2 M822.36 581.90 h2" fill="none" stroke="#a3a9b1" stroke-width="0.75"/><path d="M831.96 577.90 h5 v5 h-5z M833.16 580.50 l1 1 l1.8-1.9" fill="none" stroke="#a3a9b1" stroke-width="0.75"/><path d="M842.56 578.30 h4.8 v4.8 h-4.8z M842.56 579.80 h4.8 M843.86 577.40 v1.5 M846.06 577.40 v1.5 M844.06 581.00 h1.8 v1.2 h-1.8z" fill="none" stroke="#a3a9b1" stroke-width="0.75"/><path d="M788.96 638.00 q0.3-0.6 0.9-0.6 l0.9 1.5 l-0.7 0.7 q0.6 1.5 2 2.1 l0.7-0.7 l1.5 0.9 q0 0.6-0.6 0.9 q-2.2 0.3-3.8-1.4 q-1.3-1.6-0.9-3.4z M792.16 637.60 q1.9 0.3 2.1 2.2 M792.06 639.00 q0.8 0.1 0.9 0.9" fill="none" stroke="#a3a9b1" stroke-width="0.75"/><path d="M801.76 637.90 a2.5 2.4 0 1 1 -1.6 4.3 l-1.1 0.4 l0.4-1.1 a2.5 2.4 0 0 1 2.3-3.6z" fill="none" stroke="#a3a9b1" stroke-width="0.75"/><circle cx="804.26" cy="638.10" r="2.75" fill="#2563eb"/><path d="M804.26 636.90 v2.3" stroke="#dbe7ff" stroke-width="0.5"/><path d="M812.46 637.90 a2.5 2.4 0 1 1 -1.6 4.3 l-1.1 0.4 l0.4-1.1 a2.5 2.4 0 0 1 2.3-3.6z" fill="none" stroke="#a3a9b1" stroke-width="0.75"/><circle cx="815.16" cy="638.10" r="2.75" fill="#2563eb"/><path d="M815.16 636.90 v2.3" stroke="#dbe7ff" stroke-width="0.5"/><path d="M821.36 637.60 h2.5 l1.5 1.5 v4.1 h-4z M823.86 637.60 v1.5 h1.5 M822.36 640.80 h2 M822.36 641.90 h2" fill="none" stroke="#a3a9b1" stroke-width="0.75"/><path d="M831.96 637.90 h5 v5 h-5z M833.16 640.50 l1 1 l1.8-1.9" fill="none" stroke="#a3a9b1" stroke-width="0.75"/><path d="M842.56 638.30 h4.8 v4.8 h-4.8z M842.56 639.80 h4.8 M843.86 637.40 v1.5 M846.06 637.40 v1.5 M844.06 641.00 h1.8 v1.2 h-1.8z" fill="none" stroke="#a3a9b1" stroke-width="0.75"/><path d="M918.99 398.00 q0.3-0.6 0.9-0.6 l0.9 1.5 l-0.7 0.7 q0.6 1.5 2 2.1 l0.7-0.7 l1.5 0.9 q0 0.6-0.6 0.9 q-2.2 0.3-3.8-1.4 q-1.3-1.6-0.9-3.4z M922.19 397.60 q1.9 0.3 2.1 2.2 M922.09 399.00 q0.8 0.1 0.9 0.9" fill="none" stroke="#a3a9b1" stroke-width="0.75"/><path d="M931.79 397.90 a2.5 2.4 0 1 1 -1.6 4.3 l-1.1 0.4 l0.4-1.1 a2.5 2.4 0 0 1 2.3-3.6z" fill="none" stroke="#a3a9b1" stroke-width="0.75"/><path d="M942.49 397.90 a2.5 2.4 0 1 1 -1.6 4.3 l-1.1 0.4 l0.4-1.1 a2.5 2.4 0 0 1 2.3-3.6z" fill="none" stroke="#a3a9b1" stroke-width="0.75"/><circle cx="945.19" cy="398.10" r="2.75" fill="#2563eb"/><path d="M945.19 396.90 v2.3" stroke="#dbe7ff" stroke-width="0.5"/><path d="M951.39 397.60 h2.5 l1.5 1.5 v4.1 h-4z M953.89 397.60 v1.5 h1.5 M952.39 400.80 h2 M952.39 401.90 h2" fill="none" stroke="#a3a9b1" stroke-width="0.75"/><path d="M961.99 397.90 h5 v5 h-5z M963.19 400.50 l1 1 l1.8-1.9" fill="none" stroke="#a3a9b1" stroke-width="0.75"/><path d="M972.59 398.30 h4.8 v4.8 h-4.8z M972.59 399.80 h4.8 M973.89 397.40 v1.5 M976.09 397.40 v1.5 M974.09 401.00 h1.8 v1.2 h-1.8z" fill="none" stroke="#a3a9b1" stroke-width="0.75"/><path d="M918.99 458.00 q0.3-0.6 0.9-0.6 l0.9 1.5 l-0.7 0.7 q0.6 1.5 2 2.1 l0.7-0.7 l1.5 0.9 q0 0.6-0.6 0.9 q-2.2 0.3-3.8-1.4 q-1.3-1.6-0.9-3.4z M922.19 457.60 q1.9 0.3 2.1 2.2 M922.09 459.00 q0.8 0.1 0.9 0.9" fill="none" stroke="#a3a9b1" stroke-width="0.75"/><path d="M931.79 457.90 a2.5 2.4 0 1 1 -1.6 4.3 l-1.1 0.4 l0.4-1.1 a2.5 2.4 0 0 1 2.3-3.6z" fill="none" stroke="#a3a9b1" stroke-width="0.75"/><path d="M942.49 457.90 a2.5 2.4 0 1 1 -1.6 4.3 l-1.1 0.4 l0.4-1.1 a2.5 2.4 0 0 1 2.3-3.6z" fill="none" stroke="#a3a9b1" stroke-width="0.75"/><circle cx="945.19" cy="458.10" r="2.75" fill="#2563eb"/><path d="M945.19 456.90 v2.3" stroke="#dbe7ff" stroke-width="0.5"/><path d="M951.39 457.60 h2.5 l1.5 1.5 v4.1 h-4z M953.89 457.60 v1.5 h1.5 M952.39 460.80 h2 M952.39 461.90 h2" fill="none" stroke="#a3a9b1" stroke-width="0.75"/><path d="M961.99 457.90 h5 v5 h-5z M963.19 460.50 l1 1 l1.8-1.9" fill="none" stroke="#a3a9b1" stroke-width="0.75"/><path d="M972.59 458.30 h4.8 v4.8 h-4.8z M972.59 459.80 h4.8 M973.89 457.40 v1.5 M976.09 457.40 v1.5 M974.09 461.00 h1.8 v1.2 h-1.8z" fill="none" stroke="#a3a9b1" stroke-width="0.75"/><path d="M918.99 518.00 q0.3-0.6 0.9-0.6 l0.9 1.5 l-0.7 0.7 q0.6 1.5 2 2.1 l0.7-0.7 l1.5 0.9 q0 0.6-0.6 0.9 q-2.2 0.3-3.8-1.4 q-1.3-1.6-0.9-3.4z M922.19 517.60 q1.9 0.3 2.1 2.2 M922.09 519.00 q0.8 0.1 0.9 0.9" fill="none" stroke="#a3a9b1" stroke-width="0.75"/><path d="M931.79 517.90 a2.5 2.4 0 1 1 -1.6 4.3 l-1.1 0.4 l0.4-1.1 a2.5 2.4 0 0 1 2.3-3.6z" fill="none" stroke="#a3a9b1" stroke-width="0.75"/><path d="M942.49 517.90 a2.5 2.4 0 1 1 -1.6 4.3 l-1.1 0.4 l0.4-1.1 a2.5 2.4 0 0 1 2.3-3.6z" fill="none" stroke="#a3a9b1" stroke-width="0.75"/><circle cx="945.19" cy="518.10" r="2.75" fill="#2563eb"/><path d="M945.19 516.90 v2.3" stroke="#dbe7ff" stroke-width="0.5"/><path d="M951.39 517.60 h2.5 l1.5 1.5 v4.1 h-4z M953.89 517.60 v1.5 h1.5 M952.39 520.80 h2 M952.39 521.90 h2" fill="none" stroke="#a3a9b1" stroke-width="0.75"/><path d="M961.99 517.90 h5 v5 h-5z M963.19 520.50 l1 1 l1.8-1.9" fill="none" stroke="#a3a9b1" stroke-width="0.75"/><path d="M972.59 518.30 h4.8 v4.8 h-4.8z M972.59 519.80 h4.8 M973.89 517.40 v1.5 M976.09 517.40 v1.5 M974.09 521.00 h1.8 v1.2 h-1.8z" fill="none" stroke="#a3a9b1" stroke-width="0.75"/><path d="M918.99 578.00 q0.3-0.6 0.9-0.6 l0.9 1.5 l-0.7 0.7 q0.6 1.5 2 2.1 l0.7-0.7 l1.5 0.9 q0 0.6-0.6 0.9 q-2.2 0.3-3.8-1.4 q-1.3-1.6-0.9-3.4z M922.19 577.60 q1.9 0.3 2.1 2.2 M922.09 579.00 q0.8 0.1 0.9 0.9" fill="none" stroke="#a3a9b1" stroke-width="0.75"/><path d="M931.79 577.90 a2.5 2.4 0 1 1 -1.6 4.3 l-1.1 0.4 l0.4-1.1 a2.5 2.4 0 0 1 2.3-3.6z" fill="none" stroke="#a3a9b1" stroke-width="0.75"/><path d="M942.49 577.90 a2.5 2.4 0 1 1 -1.6 4.3 l-1.1 0.4 l0.4-1.1 a2.5 2.4 0 0 1 2.3-3.6z" fill="none" stroke="#a3a9b1" stroke-width="0.75"/><circle cx="945.19" cy="578.10" r="2.75" fill="#2563eb"/><path d="M945.19 576.90 v2.3" stroke="#dbe7ff" stroke-width="0.5"/><path d="M951.39 577.60 h2.5 l1.5 1.5 v4.1 h-4z M953.89 577.60 v1.5 h1.5 M952.39 580.80 h2 M952.39 581.90 h2" fill="none" stroke="#a3a9b1" stroke-width="0.75"/><path d="M961.99 577.90 h5 v5 h-5z M963.19 580.50 l1 1 l1.8-1.9" fill="none" stroke="#a3a9b1" stroke-width="0.75"/><path d="M972.59 578.30 h4.8 v4.8 h-4.8z M972.59 579.80 h4.8 M973.89 577.40 v1.5 M976.09 577.40 v1.5 M974.09 581.00 h1.8 v1.2 h-1.8z" fill="none" stroke="#a3a9b1" stroke-width="0.75"/><path d="M918.99 638.00 q0.3-0.6 0.9-0.6 l0.9 1.5 l-0.7 0.7 q0.6 1.5 2 2.1 l0.7-0.7 l1.5 0.9 q0 0.6-0.6 0.9 q-2.2 0.3-3.8-1.4 q-1.3-1.6-0.9-3.4z M922.19 637.60 q1.9 0.3 2.1 2.2 M922.09 639.00 q0.8 0.1 0.9 0.9" fill="none" stroke="#a3a9b1" stroke-width="0.75"/><path d="M931.79 637.90 a2.5 2.4 0 1 1 -1.6 4.3 l-1.1 0.4 l0.4-1.1 a2.5 2.4 0 0 1 2.3-3.6z" fill="none" stroke="#a3a9b1" stroke-width="0.75"/><path d="M942.49 637.90 a2.5 2.4 0 1 1 -1.6 4.3 l-1.1 0.4 l0.4-1.1 a2.5 2.4 0 0 1 2.3-3.6z" fill="none" stroke="#a3a9b1" stroke-width="0.75"/><circle cx="945.19" cy="638.10" r="2.75" fill="#2563eb"/><path d="M945.19 636.90 v2.3" stroke="#dbe7ff" stroke-width="0.5"/><path d="M951.39 637.60 h2.5 l1.5 1.5 v4.1 h-4z M953.89 637.60 v1.5 h1.5 M952.39 640.80 h2 M952.39 641.90 h2" fill="none" stroke="#a3a9b1" stroke-width="0.75"/><path d="M961.99 637.90 h5 v5 h-5z M963.19 640.50 l1 1 l1.8-1.9" fill="none" stroke="#a3a9b1" stroke-width="0.75"/><path d="M972.59 638.30 h4.8 v4.8 h-4.8z M972.59 639.80 h4.8 M973.89 637.40 v1.5 M976.09 637.40 v1.5 M974.09 641.00 h1.8 v1.2 h-1.8z" fill="none" stroke="#a3a9b1" stroke-width="0.75"/><path d="M1049.02 398.00 q0.3-0.6 0.9-0.6 l0.9 1.5 l-0.7 0.7 q0.6 1.5 2 2.1 l0.7-0.7 l1.5 0.9 q0 0.6-0.6 0.9 q-2.2 0.3-3.8-1.4 q-1.3-1.6-0.9-3.4z M1052.22 397.60 q1.9 0.3 2.1 2.2 M1052.12 399.00 q0.8 0.1 0.9 0.9" fill="none" stroke="#a3a9b1" stroke-width="0.75"/><path d="M1061.82 397.90 a2.5 2.4 0 1 1 -1.6 4.3 l-1.1 0.4 l0.4-1.1 a2.5 2.4 0 0 1 2.3-3.6z" fill="none" stroke="#a3a9b1" stroke-width="0.75"/><path d="M1072.52 397.90 a2.5 2.4 0 1 1 -1.6 4.3 l-1.1 0.4 l0.4-1.1 a2.5 2.4 0 0 1 2.3-3.6z" fill="none" stroke="#a3a9b1" stroke-width="0.75"/><circle cx="1075.22" cy="398.10" r="2.75" fill="#2563eb"/><path d="M1075.22 396.90 v2.3" stroke="#dbe7ff" stroke-width="0.5"/><path d="M1081.42 397.60 h2.5 l1.5 1.5 v4.1 h-4z M1083.92 397.60 v1.5 h1.5 M1082.42 400.80 h2 M1082.42 401.90 h2" fill="none" stroke="#a3a9b1" stroke-width="0.75"/><path d="M1092.02 397.90 h5 v5 h-5z M1093.22 400.50 l1 1 l1.8-1.9" fill="none" stroke="#a3a9b1" stroke-width="0.75"/><path d="M1102.62 398.30 h4.8 v4.8 h-4.8z M1102.62 399.80 h4.8 M1103.92 397.40 v1.5 M1106.12 397.40 v1.5 M1104.12 401.00 h1.8 v1.2 h-1.8z" fill="none" stroke="#a3a9b1" stroke-width="0.75"/><path d="M1049.02 458.00 q0.3-0.6 0.9-0.6 l0.9 1.5 l-0.7 0.7 q0.6 1.5 2 2.1 l0.7-0.7 l1.5 0.9 q0 0.6-0.6 0.9 q-2.2 0.3-3.8-1.4 q-1.3-1.6-0.9-3.4z M1052.22 457.60 q1.9 0.3 2.1 2.2 M1052.12 459.00 q0.8 0.1 0.9 0.9" fill="none" stroke="#a3a9b1" stroke-width="0.75"/><path d="M1061.82 457.90 a2.5 2.4 0 1 1 -1.6 4.3 l-1.1 0.4 l0.4-1.1 a2.5 2.4 0 0 1 2.3-3.6z" fill="none" stroke="#a3a9b1" stroke-width="0.75"/><path d="M1072.52 457.90 a2.5 2.4 0 1 1 -1.6 4.3 l-1.1 0.4 l0.4-1.1 a2.5 2.4 0 0 1 2.3-3.6z" fill="none" stroke="#a3a9b1" stroke-width="0.75"/><circle cx="1075.22" cy="458.10" r="2.75" fill="#2563eb"/><path d="M1075.22 456.90 v2.3" stroke="#dbe7ff" stroke-width="0.5"/><path d="M1081.42 457.60 h2.5 l1.5 1.5 v4.1 h-4z M1083.92 457.60 v1.5 h1.5 M1082.42 460.80 h2 M1082.42 461.90 h2" fill="none" stroke="#a3a9b1" stroke-width="0.75"/><path d="M1092.02 457.90 h5 v5 h-5z M1093.22 460.50 l1 1 l1.8-1.9" fill="none" stroke="#a3a9b1" stroke-width="0.75"/><path d="M1102.62 458.30 h4.8 v4.8 h-4.8z M1102.62 459.80 h4.8 M1103.92 457.40 v1.5 M1106.12 457.40 v1.5 M1104.12 461.00 h1.8 v1.2 h-1.8z" fill="none" stroke="#a3a9b1" stroke-width="0.75"/><path d="M1049.02 518.00 q0.3-0.6 0.9-0.6 l0.9 1.5 l-0.7 0.7 q0.6 1.5 2 2.1 l0.7-0.7 l1.5 0.9 q0 0.6-0.6 0.9 q-2.2 0.3-3.8-1.4 q-1.3-1.6-0.9-3.4z M1052.22 517.60 q1.9 0.3 2.1 2.2 M1052.12 519.00 q0.8 0.1 0.9 0.9" fill="none" stroke="#a3a9b1" stroke-width="0.75"/><path d="M1061.82 517.90 a2.5 2.4 0 1 1 -1.6 4.3 l-1.1 0.4 l0.4-1.1 a2.5 2.4 0 0 1 2.3-3.6z" fill="none" stroke="#a3a9b1" stroke-width="0.75"/><path d="M1072.52 517.90 a2.5 2.4 0 1 1 -1.6 4.3 l-1.1 0.4 l0.4-1.1 a2.5 2.4 0 0 1 2.3-3.6z" fill="none" stroke="#a3a9b1" stroke-width="0.75"/><circle cx="1075.22" cy="518.10" r="2.75" fill="#2563eb"/><path d="M1075.22 516.90 v2.3" stroke="#dbe7ff" stroke-width="0.5"/><path d="M1081.42 517.60 h2.5 l1.5 1.5 v4.1 h-4z M1083.92 517.60 v1.5 h1.5 M1082.42 520.80 h2 M1082.42 521.90 h2" fill="none" stroke="#a3a9b1" stroke-width="0.75"/><path d="M1092.02 517.90 h5 v5 h-5z M1093.22 520.50 l1 1 l1.8-1.9" fill="none" stroke="#a3a9b1" stroke-width="0.75"/><path d="M1102.62 518.30 h4.8 v4.8 h-4.8z M1102.62 519.80 h4.8 M1103.92 517.40 v1.5 M1106.12 517.40 v1.5 M1104.12 521.00 h1.8 v1.2 h-1.8z" fill="none" stroke="#a3a9b1" stroke-width="0.75"/><path d="M1049.02 578.00 q0.3-0.6 0.9-0.6 l0.9 1.5 l-0.7 0.7 q0.6 1.5 2 2.1 l0.7-0.7 l1.5 0.9 q0 0.6-0.6 0.9 q-2.2 0.3-3.8-1.4 q-1.3-1.6-0.9-3.4z M1052.22 577.60 q1.9 0.3 2.1 2.2 M1052.12 579.00 q0.8 0.1 0.9 0.9" fill="none" stroke="#a3a9b1" stroke-width="0.75"/><path d="M1061.82 577.90 a2.5 2.4 0 1 1 -1.6 4.3 l-1.1 0.4 l0.4-1.1 a2.5 2.4 0 0 1 2.3-3.6z" fill="none" stroke="#a3a9b1" stroke-width="0.75"/><path d="M1072.52 577.90 a2.5 2.4 0 1 1 -1.6 4.3 l-1.1 0.4 l0.4-1.1 a2.5 2.4 0 0 1 2.3-3.6z" fill="none" stroke="#a3a9b1" stroke-width="0.75"/><circle cx="1075.22" cy="578.10" r="2.75" fill="#2563eb"/><path d="M1075.22 576.90 v2.3" stroke="#dbe7ff" stroke-width="0.5"/><path d="M1081.42 577.60 h2.5 l1.5 1.5 v4.1 h-4z M1083.92 577.60 v1.5 h1.5 M1082.42 580.80 h2 M1082.42 581.90 h2" fill="none" stroke="#a3a9b1" stroke-width="0.75"/><path d="M1092.02 577.90 h5 v5 h-5z M1093.22 580.50 l1 1 l1.8-1.9" fill="none" stroke="#a3a9b1" stroke-width="0.75"/><path d="M1102.62 578.30 h4.8 v4.8 h-4.8z M1102.62 579.80 h4.8 M1103.92 577.40 v1.5 M1106.12 577.40 v1.5 M1104.12 581.00 h1.8 v1.2 h-1.8z" fill="none" stroke="#a3a9b1" stroke-width="0.75"/><path d="M1049.02 638.00 q0.3-0.6 0.9-0.6 l0.9 1.5 l-0.7 0.7 q0.6 1.5 2 2.1 l0.7-0.7 l1.5 0.9 q0 0.6-0.6 0.9 q-2.2 0.3-3.8-1.4 q-1.3-1.6-0.9-3.4z M1052.22 637.60 q1.9 0.3 2.1 2.2 M1052.12 639.00 q0.8 0.1 0.9 0.9" fill="none" stroke="#a3a9b1" stroke-width="0.75"/><path d="M1061.82 637.90 a2.5 2.4 0 1 1 -1.6 4.3 l-1.1 0.4 l0.4-1.1 a2.5 2.4 0 0 1 2.3-3.6z" fill="none" stroke="#a3a9b1" stroke-width="0.75"/><path d="M1072.52 637.90 a2.5 2.4 0 1 1 -1.6 4.3 l-1.1 0.4 l0.4-1.1 a2.5 2.4 0 0 1 2.3-3.6z" fill="none" stroke="#a3a9b1" stroke-width="0.75"/><circle cx="1075.22" cy="638.10" r="2.75" fill="#2563eb"/><path d="M1075.22 636.90 v2.3" stroke="#dbe7ff" stroke-width="0.5"/><path d="M1081.42 637.60 h2.5 l1.5 1.5 v4.1 h-4z M1083.92 637.60 v1.5 h1.5 M1082.42 640.80 h2 M1082.42 641.90 h2" fill="none" stroke="#a3a9b1" stroke-width="0.75"/><path d="M1092.02 637.90 h5 v5 h-5z M1093.22 640.50 l1 1 l1.8-1.9" fill="none" stroke="#a3a9b1" stroke-width="0.75"/><path d="M1102.62 638.30 h4.8 v4.8 h-4.8z M1102.62 639.80 h4.8 M1103.92 637.40 v1.5 M1106.12 637.40 v1.5 M1104.12 641.00 h1.8 v1.2 h-1.8z" fill="none" stroke="#a3a9b1" stroke-width="0.75"/></svg>
</body></html>
